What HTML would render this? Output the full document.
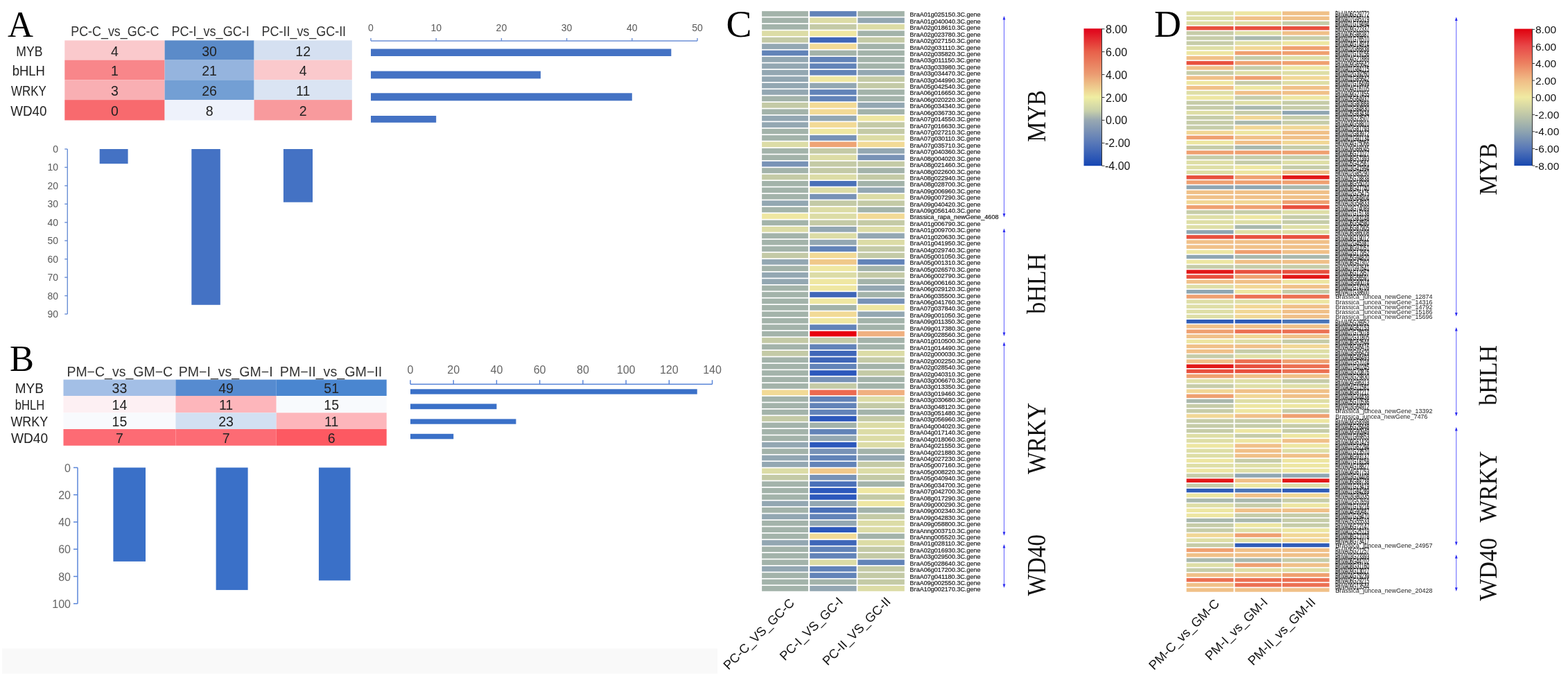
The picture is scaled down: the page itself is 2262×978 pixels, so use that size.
<!DOCTYPE html>
<html><head><meta charset="utf-8"><title>Figure</title>
<style>
html,body{margin:0;padding:0;background:#fff;width:2262px;height:978px;overflow:hidden}
svg{display:block}
</style></head>
<body>
<svg width="2262" height="978" viewBox="0 0 2262 978">
<rect x="0" y="0" width="2262" height="978" fill="#fff"/>
<rect x="3.00" y="935.50" width="1032.00" height="36.20" fill="#f9f9f9"/>
<text x="11.0" y="53.0" font-size="53" fill="#000" text-anchor="start" font-family="'Liberation Serif', 'Times New Roman', serif" textLength="37.0" lengthAdjust="spacingAndGlyphs">A</text>
<text x="14.0" y="534.7" font-size="53.5" fill="#000" text-anchor="start" font-family="'Liberation Serif', 'Times New Roman', serif" textLength="35.0" lengthAdjust="spacingAndGlyphs">B</text>
<text x="1047.5" y="53.3" font-size="55.5" fill="#000" text-anchor="start" font-family="'Liberation Serif', 'Times New Roman', serif" textLength="37.0" lengthAdjust="spacingAndGlyphs">C</text>
<text x="1665.0" y="53.3" font-size="54" fill="#000" text-anchor="start" font-family="'Liberation Serif', 'Times New Roman', serif" textLength="39.0" lengthAdjust="spacingAndGlyphs">D</text>
<rect x="93.30" y="58.30" width="144.30" height="28.30" fill="#fac9cc"/>
<rect x="237.60" y="58.30" width="129.00" height="28.30" fill="#5b8bc9"/>
<rect x="366.60" y="58.30" width="141.20" height="28.30" fill="#d5e0f1"/>
<rect x="93.30" y="86.60" width="144.30" height="28.70" fill="#f8868a"/>
<rect x="237.60" y="86.60" width="129.00" height="28.70" fill="#95b4de"/>
<rect x="366.60" y="86.60" width="141.20" height="28.70" fill="#fac9cc"/>
<rect x="93.30" y="115.30" width="144.30" height="28.80" fill="#f9afb3"/>
<rect x="237.60" y="115.30" width="129.00" height="28.80" fill="#739fd4"/>
<rect x="366.60" y="115.30" width="141.20" height="28.80" fill="#dae4f3"/>
<rect x="93.30" y="144.10" width="144.30" height="29.40" fill="#f86a6e"/>
<rect x="237.60" y="144.10" width="129.00" height="29.40" fill="#eef2fb"/>
<rect x="366.60" y="144.10" width="141.20" height="29.40" fill="#f89a9d"/>
<text x="165.4" y="80.7" font-size="19.5" fill="#222" text-anchor="middle" font-family="'Liberation Sans', Arial, sans-serif">4</text>
<text x="302.1" y="80.7" font-size="19.5" fill="#222" text-anchor="middle" font-family="'Liberation Sans', Arial, sans-serif">30</text>
<text x="437.2" y="80.7" font-size="19.5" fill="#222" text-anchor="middle" font-family="'Liberation Sans', Arial, sans-serif">12</text>
<text x="165.4" y="109.2" font-size="19.5" fill="#222" text-anchor="middle" font-family="'Liberation Sans', Arial, sans-serif">1</text>
<text x="302.1" y="109.2" font-size="19.5" fill="#222" text-anchor="middle" font-family="'Liberation Sans', Arial, sans-serif">21</text>
<text x="437.2" y="109.2" font-size="19.5" fill="#222" text-anchor="middle" font-family="'Liberation Sans', Arial, sans-serif">4</text>
<text x="165.4" y="138.0" font-size="19.5" fill="#222" text-anchor="middle" font-family="'Liberation Sans', Arial, sans-serif">3</text>
<text x="302.1" y="138.0" font-size="19.5" fill="#222" text-anchor="middle" font-family="'Liberation Sans', Arial, sans-serif">26</text>
<text x="437.2" y="138.0" font-size="19.5" fill="#222" text-anchor="middle" font-family="'Liberation Sans', Arial, sans-serif">11</text>
<text x="165.4" y="167.1" font-size="19.5" fill="#222" text-anchor="middle" font-family="'Liberation Sans', Arial, sans-serif">0</text>
<text x="302.1" y="167.1" font-size="19.5" fill="#222" text-anchor="middle" font-family="'Liberation Sans', Arial, sans-serif">8</text>
<text x="437.2" y="167.1" font-size="19.5" fill="#222" text-anchor="middle" font-family="'Liberation Sans', Arial, sans-serif">2</text>
<text x="23.3" y="80.7" font-size="19.5" fill="#222" text-anchor="start" font-family="'Liberation Sans', Arial, sans-serif" textLength="38.1" lengthAdjust="spacingAndGlyphs">MYB</text>
<text x="17.7" y="109.2" font-size="19.5" fill="#222" text-anchor="start" font-family="'Liberation Sans', Arial, sans-serif" textLength="47.3" lengthAdjust="spacingAndGlyphs">bHLH</text>
<text x="16.0" y="138.0" font-size="19.5" fill="#222" text-anchor="start" font-family="'Liberation Sans', Arial, sans-serif" textLength="50.8" lengthAdjust="spacingAndGlyphs">WRKY</text>
<text x="15.2" y="167.1" font-size="19.5" fill="#222" text-anchor="start" font-family="'Liberation Sans', Arial, sans-serif" textLength="52.3" lengthAdjust="spacingAndGlyphs">WD40</text>
<text x="102.2" y="51.5" font-size="19.5" fill="#333" text-anchor="start" font-family="'Liberation Sans', Arial, sans-serif" textLength="127.3" lengthAdjust="spacingAndGlyphs">PC-C_vs_GC-C</text>
<text x="247.5" y="51.5" font-size="19.5" fill="#333" text-anchor="start" font-family="'Liberation Sans', Arial, sans-serif" textLength="112.2" lengthAdjust="spacingAndGlyphs">PC-I_vs_GC-I</text>
<text x="377.6" y="51.5" font-size="19.5" fill="#333" text-anchor="start" font-family="'Liberation Sans', Arial, sans-serif" textLength="121.5" lengthAdjust="spacingAndGlyphs">PC-II_vs_GC-II</text>
<line x1="535" y1="59" x2="1006" y2="59" stroke="#6b8fd6" stroke-width="1.4"/>
<line x1="535.0" y1="59" x2="535.0" y2="55" stroke="#6b8fd6" stroke-width="1.4"/>
<text x="535.0" y="44.5" font-size="14" fill="#595959" text-anchor="middle" font-family="'Liberation Sans', Arial, sans-serif">0</text>
<line x1="629.2" y1="59" x2="629.2" y2="55" stroke="#6b8fd6" stroke-width="1.4"/>
<text x="629.2" y="44.5" font-size="14" fill="#595959" text-anchor="middle" font-family="'Liberation Sans', Arial, sans-serif">10</text>
<line x1="723.4" y1="59" x2="723.4" y2="55" stroke="#6b8fd6" stroke-width="1.4"/>
<text x="723.4" y="44.5" font-size="14" fill="#595959" text-anchor="middle" font-family="'Liberation Sans', Arial, sans-serif">20</text>
<line x1="817.6" y1="59" x2="817.6" y2="55" stroke="#6b8fd6" stroke-width="1.4"/>
<text x="817.6" y="44.5" font-size="14" fill="#595959" text-anchor="middle" font-family="'Liberation Sans', Arial, sans-serif">30</text>
<line x1="911.8" y1="59" x2="911.8" y2="55" stroke="#6b8fd6" stroke-width="1.4"/>
<text x="911.8" y="44.5" font-size="14" fill="#595959" text-anchor="middle" font-family="'Liberation Sans', Arial, sans-serif">40</text>
<line x1="1006.0" y1="59" x2="1006.0" y2="55" stroke="#6b8fd6" stroke-width="1.4"/>
<text x="1006.0" y="44.5" font-size="14" fill="#595959" text-anchor="middle" font-family="'Liberation Sans', Arial, sans-serif">50</text>
<rect x="535.00" y="70.50" width="433.32" height="10.50" fill="#4472c4"/>
<rect x="535.00" y="102.60" width="244.92" height="10.80" fill="#4472c4"/>
<rect x="535.00" y="134.30" width="376.80" height="11.00" fill="#4472c4"/>
<rect x="535.00" y="167.00" width="94.20" height="9.80" fill="#4472c4"/>
<line x1="97.3" y1="215" x2="97.3" y2="453" stroke="#6b8fd6" stroke-width="1.4"/>
<line x1="93.3" y1="215.0" x2="97.3" y2="215.0" stroke="#6b8fd6" stroke-width="1.4"/>
<text x="84.0" y="220.0" font-size="14" fill="#595959" text-anchor="end" font-family="'Liberation Sans', Arial, sans-serif">0</text>
<line x1="93.3" y1="241.4" x2="97.3" y2="241.4" stroke="#6b8fd6" stroke-width="1.4"/>
<text x="84.0" y="246.4" font-size="14" fill="#595959" text-anchor="end" font-family="'Liberation Sans', Arial, sans-serif">10</text>
<line x1="93.3" y1="267.9" x2="97.3" y2="267.9" stroke="#6b8fd6" stroke-width="1.4"/>
<text x="84.0" y="272.9" font-size="14" fill="#595959" text-anchor="end" font-family="'Liberation Sans', Arial, sans-serif">20</text>
<line x1="93.3" y1="294.3" x2="97.3" y2="294.3" stroke="#6b8fd6" stroke-width="1.4"/>
<text x="84.0" y="299.3" font-size="14" fill="#595959" text-anchor="end" font-family="'Liberation Sans', Arial, sans-serif">30</text>
<line x1="93.3" y1="320.8" x2="97.3" y2="320.8" stroke="#6b8fd6" stroke-width="1.4"/>
<text x="84.0" y="325.8" font-size="14" fill="#595959" text-anchor="end" font-family="'Liberation Sans', Arial, sans-serif">40</text>
<line x1="93.3" y1="347.2" x2="97.3" y2="347.2" stroke="#6b8fd6" stroke-width="1.4"/>
<text x="84.0" y="352.2" font-size="14" fill="#595959" text-anchor="end" font-family="'Liberation Sans', Arial, sans-serif">50</text>
<line x1="93.3" y1="373.7" x2="97.3" y2="373.7" stroke="#6b8fd6" stroke-width="1.4"/>
<text x="84.0" y="378.7" font-size="14" fill="#595959" text-anchor="end" font-family="'Liberation Sans', Arial, sans-serif">60</text>
<line x1="93.3" y1="400.1" x2="97.3" y2="400.1" stroke="#6b8fd6" stroke-width="1.4"/>
<text x="84.0" y="405.1" font-size="14" fill="#595959" text-anchor="end" font-family="'Liberation Sans', Arial, sans-serif">70</text>
<line x1="93.3" y1="426.6" x2="97.3" y2="426.6" stroke="#6b8fd6" stroke-width="1.4"/>
<text x="84.0" y="431.6" font-size="14" fill="#595959" text-anchor="end" font-family="'Liberation Sans', Arial, sans-serif">80</text>
<line x1="93.3" y1="453.0" x2="97.3" y2="453.0" stroke="#6b8fd6" stroke-width="1.4"/>
<text x="84.0" y="458.0" font-size="14" fill="#595959" text-anchor="end" font-family="'Liberation Sans', Arial, sans-serif">90</text>
<rect x="143.70" y="215.00" width="40.90" height="21.16" fill="#4472c4"/>
<rect x="276.30" y="215.00" width="41.50" height="224.78" fill="#4472c4"/>
<rect x="408.90" y="215.00" width="42.10" height="76.69" fill="#4472c4"/>
<rect x="91.50" y="547.60" width="161.90" height="23.40" fill="#a3bfe6"/>
<rect x="253.40" y="547.60" width="145.30" height="23.40" fill="#568bd0"/>
<rect x="398.70" y="547.60" width="159.00" height="23.40" fill="#4a86d0"/>
<rect x="91.50" y="571.00" width="161.90" height="24.40" fill="#fdf0f3"/>
<rect x="253.40" y="571.00" width="145.30" height="24.40" fill="#fdb6bb"/>
<rect x="398.70" y="571.00" width="159.00" height="24.40" fill="#f8fafd"/>
<rect x="91.50" y="595.40" width="161.90" height="23.60" fill="#f8fafd"/>
<rect x="253.40" y="595.40" width="145.30" height="23.60" fill="#d2e0f2"/>
<rect x="398.70" y="595.40" width="159.00" height="23.60" fill="#fdb6bb"/>
<rect x="91.50" y="619.00" width="161.90" height="23.80" fill="#fd6b74"/>
<rect x="253.40" y="619.00" width="145.30" height="23.80" fill="#fd6b74"/>
<rect x="398.70" y="619.00" width="159.00" height="23.80" fill="#fd5962"/>
<text x="172.4" y="567.3" font-size="19.5" fill="#222" text-anchor="middle" font-family="'Liberation Sans', Arial, sans-serif">33</text>
<text x="326.1" y="567.3" font-size="19.5" fill="#222" text-anchor="middle" font-family="'Liberation Sans', Arial, sans-serif">49</text>
<text x="478.2" y="567.3" font-size="19.5" fill="#222" text-anchor="middle" font-family="'Liberation Sans', Arial, sans-serif">51</text>
<text x="172.4" y="591.2" font-size="19.5" fill="#222" text-anchor="middle" font-family="'Liberation Sans', Arial, sans-serif">14</text>
<text x="326.1" y="591.2" font-size="19.5" fill="#222" text-anchor="middle" font-family="'Liberation Sans', Arial, sans-serif">11</text>
<text x="478.2" y="591.2" font-size="19.5" fill="#222" text-anchor="middle" font-family="'Liberation Sans', Arial, sans-serif">15</text>
<text x="172.4" y="615.2" font-size="19.5" fill="#222" text-anchor="middle" font-family="'Liberation Sans', Arial, sans-serif">15</text>
<text x="326.1" y="615.2" font-size="19.5" fill="#222" text-anchor="middle" font-family="'Liberation Sans', Arial, sans-serif">23</text>
<text x="478.2" y="615.2" font-size="19.5" fill="#222" text-anchor="middle" font-family="'Liberation Sans', Arial, sans-serif">11</text>
<text x="172.4" y="638.9" font-size="19.5" fill="#222" text-anchor="middle" font-family="'Liberation Sans', Arial, sans-serif">7</text>
<text x="326.1" y="638.9" font-size="19.5" fill="#222" text-anchor="middle" font-family="'Liberation Sans', Arial, sans-serif">7</text>
<text x="478.2" y="638.9" font-size="19.5" fill="#222" text-anchor="middle" font-family="'Liberation Sans', Arial, sans-serif">6</text>
<text x="21.8" y="567.3" font-size="19.5" fill="#222" text-anchor="start" font-family="'Liberation Sans', Arial, sans-serif" textLength="41.0" lengthAdjust="spacingAndGlyphs">MYB</text>
<text x="21.8" y="591.2" font-size="19.5" fill="#222" text-anchor="start" font-family="'Liberation Sans', Arial, sans-serif" textLength="42.3" lengthAdjust="spacingAndGlyphs">bHLH</text>
<text x="15.4" y="615.2" font-size="19.5" fill="#222" text-anchor="start" font-family="'Liberation Sans', Arial, sans-serif" textLength="53.8" lengthAdjust="spacingAndGlyphs">WRKY</text>
<text x="15.9" y="638.9" font-size="19.5" fill="#222" text-anchor="start" font-family="'Liberation Sans', Arial, sans-serif" textLength="53.3" lengthAdjust="spacingAndGlyphs">WD40</text>
<text x="96.4" y="543.3" font-size="19.5" fill="#333" text-anchor="start" font-family="'Liberation Sans', Arial, sans-serif" textLength="152.7" lengthAdjust="spacingAndGlyphs">PM−C_vs_GM−C</text>
<text x="257.7" y="543.3" font-size="19.5" fill="#333" text-anchor="start" font-family="'Liberation Sans', Arial, sans-serif" textLength="135.9" lengthAdjust="spacingAndGlyphs">PM−I_vs_GM−I</text>
<text x="403.8" y="543.3" font-size="19.5" fill="#333" text-anchor="start" font-family="'Liberation Sans', Arial, sans-serif" textLength="147.5" lengthAdjust="spacingAndGlyphs">PM−II_vs_GM−II</text>
<line x1="592" y1="554.2" x2="1027.5" y2="554.2" stroke="#5b86d8" stroke-width="1.5"/>
<line x1="592.0" y1="554.2" x2="592.0" y2="548.2" stroke="#5b86d8" stroke-width="1.5"/>
<text x="592.0" y="539.3" font-size="16" fill="#666" text-anchor="middle" font-family="'Liberation Sans', Arial, sans-serif">0</text>
<line x1="654.2" y1="554.2" x2="654.2" y2="548.2" stroke="#5b86d8" stroke-width="1.5"/>
<text x="654.2" y="539.3" font-size="16" fill="#666" text-anchor="middle" font-family="'Liberation Sans', Arial, sans-serif">20</text>
<line x1="716.4" y1="554.2" x2="716.4" y2="548.2" stroke="#5b86d8" stroke-width="1.5"/>
<text x="716.4" y="539.3" font-size="16" fill="#666" text-anchor="middle" font-family="'Liberation Sans', Arial, sans-serif">40</text>
<line x1="778.6" y1="554.2" x2="778.6" y2="548.2" stroke="#5b86d8" stroke-width="1.5"/>
<text x="778.6" y="539.3" font-size="16" fill="#666" text-anchor="middle" font-family="'Liberation Sans', Arial, sans-serif">60</text>
<line x1="840.9" y1="554.2" x2="840.9" y2="548.2" stroke="#5b86d8" stroke-width="1.5"/>
<text x="840.9" y="539.3" font-size="16" fill="#666" text-anchor="middle" font-family="'Liberation Sans', Arial, sans-serif">80</text>
<line x1="903.1" y1="554.2" x2="903.1" y2="548.2" stroke="#5b86d8" stroke-width="1.5"/>
<text x="903.1" y="539.3" font-size="16" fill="#666" text-anchor="middle" font-family="'Liberation Sans', Arial, sans-serif">100</text>
<line x1="965.3" y1="554.2" x2="965.3" y2="548.2" stroke="#5b86d8" stroke-width="1.5"/>
<text x="965.3" y="539.3" font-size="16" fill="#666" text-anchor="middle" font-family="'Liberation Sans', Arial, sans-serif">120</text>
<line x1="1027.5" y1="554.2" x2="1027.5" y2="548.2" stroke="#5b86d8" stroke-width="1.5"/>
<text x="1027.5" y="539.3" font-size="16" fill="#666" text-anchor="middle" font-family="'Liberation Sans', Arial, sans-serif">140</text>
<rect x="592.00" y="561.30" width="413.73" height="7.30" fill="#3a70c8"/>
<rect x="592.00" y="582.50" width="124.43" height="7.70" fill="#3a70c8"/>
<rect x="592.00" y="604.40" width="152.43" height="7.30" fill="#3a70c8"/>
<rect x="592.00" y="625.80" width="62.21" height="7.50" fill="#3a70c8"/>
<line x1="112" y1="674.5" x2="112" y2="870.7" stroke="#5b86d8" stroke-width="1.5"/>
<line x1="106" y1="674.5" x2="112" y2="674.5" stroke="#5b86d8" stroke-width="1.5"/>
<text x="102.0" y="680.5" font-size="16" fill="#666" text-anchor="end" font-family="'Liberation Sans', Arial, sans-serif">0</text>
<line x1="106" y1="713.7" x2="112" y2="713.7" stroke="#5b86d8" stroke-width="1.5"/>
<text x="102.0" y="719.7" font-size="16" fill="#666" text-anchor="end" font-family="'Liberation Sans', Arial, sans-serif">20</text>
<line x1="106" y1="753.0" x2="112" y2="753.0" stroke="#5b86d8" stroke-width="1.5"/>
<text x="102.0" y="759.0" font-size="16" fill="#666" text-anchor="end" font-family="'Liberation Sans', Arial, sans-serif">40</text>
<line x1="106" y1="792.2" x2="112" y2="792.2" stroke="#5b86d8" stroke-width="1.5"/>
<text x="102.0" y="798.2" font-size="16" fill="#666" text-anchor="end" font-family="'Liberation Sans', Arial, sans-serif">60</text>
<line x1="106" y1="831.5" x2="112" y2="831.5" stroke="#5b86d8" stroke-width="1.5"/>
<text x="102.0" y="837.5" font-size="16" fill="#666" text-anchor="end" font-family="'Liberation Sans', Arial, sans-serif">80</text>
<line x1="106" y1="870.7" x2="112" y2="870.7" stroke="#5b86d8" stroke-width="1.5"/>
<text x="102.0" y="876.7" font-size="16" fill="#666" text-anchor="end" font-family="'Liberation Sans', Arial, sans-serif">100</text>
<rect x="163.40" y="674.50" width="46.60" height="135.38" fill="#3a70c8"/>
<rect x="311.60" y="674.50" width="46.00" height="176.58" fill="#3a70c8"/>
<rect x="459.90" y="674.50" width="45.60" height="162.85" fill="#3a70c8"/>
<g>
<rect x="1099.10" y="16.10" width="66.80" height="7.70" fill="#a3b3aa"/>
<rect x="1168.20" y="16.10" width="67.40" height="7.70" fill="#6283b8"/>
<rect x="1237.40" y="16.10" width="67.40" height="7.70" fill="#a3b3aa"/>
<rect x="1099.10" y="25.52" width="66.80" height="7.70" fill="#a3b3aa"/>
<rect x="1168.20" y="25.52" width="67.40" height="7.70" fill="#dcdca6"/>
<rect x="1237.40" y="25.52" width="67.40" height="7.70" fill="#93a7b2"/>
<rect x="1099.10" y="34.94" width="66.80" height="7.70" fill="#a3b3aa"/>
<rect x="1168.20" y="34.94" width="67.40" height="7.70" fill="#c4caa6"/>
<rect x="1237.40" y="34.94" width="67.40" height="7.70" fill="#dcdca6"/>
<rect x="1099.10" y="44.36" width="66.80" height="7.70" fill="#dcdca6"/>
<rect x="1168.20" y="44.36" width="67.40" height="7.70" fill="#efe7a2"/>
<rect x="1237.40" y="44.36" width="67.40" height="7.70" fill="#a3b3aa"/>
<rect x="1099.10" y="53.78" width="66.80" height="7.70" fill="#c4caa6"/>
<rect x="1168.20" y="53.78" width="67.40" height="7.70" fill="#3f66b8"/>
<rect x="1237.40" y="53.78" width="67.40" height="7.70" fill="#c4caa6"/>
<rect x="1099.10" y="63.20" width="66.80" height="7.70" fill="#93a7b2"/>
<rect x="1168.20" y="63.20" width="67.40" height="7.70" fill="#f2da96"/>
<rect x="1237.40" y="63.20" width="67.40" height="7.70" fill="#a3b3aa"/>
<rect x="1099.10" y="72.62" width="66.80" height="7.70" fill="#6283b8"/>
<rect x="1168.20" y="72.62" width="67.40" height="7.70" fill="#a3b3aa"/>
<rect x="1237.40" y="72.62" width="67.40" height="7.70" fill="#a3b3aa"/>
<rect x="1099.10" y="82.04" width="66.80" height="7.70" fill="#93a7b2"/>
<rect x="1168.20" y="82.04" width="67.40" height="7.70" fill="#6283b8"/>
<rect x="1237.40" y="82.04" width="67.40" height="7.70" fill="#a3b3aa"/>
<rect x="1099.10" y="91.46" width="66.80" height="7.70" fill="#93a7b2"/>
<rect x="1168.20" y="91.46" width="67.40" height="7.70" fill="#6283b8"/>
<rect x="1237.40" y="91.46" width="67.40" height="7.70" fill="#a3b3aa"/>
<rect x="1099.10" y="100.88" width="66.80" height="7.70" fill="#93a7b2"/>
<rect x="1168.20" y="100.88" width="67.40" height="7.70" fill="#6283b8"/>
<rect x="1237.40" y="100.88" width="67.40" height="7.70" fill="#93a7b2"/>
<rect x="1099.10" y="110.30" width="66.80" height="7.70" fill="#93a7b2"/>
<rect x="1168.20" y="110.30" width="67.40" height="7.70" fill="#efe7a2"/>
<rect x="1237.40" y="110.30" width="67.40" height="7.70" fill="#c4caa6"/>
<rect x="1099.10" y="119.72" width="66.80" height="7.70" fill="#93a7b2"/>
<rect x="1168.20" y="119.72" width="67.40" height="7.70" fill="#93a7b2"/>
<rect x="1237.40" y="119.72" width="67.40" height="7.70" fill="#c4caa6"/>
<rect x="1099.10" y="129.14" width="66.80" height="7.70" fill="#93a7b2"/>
<rect x="1168.20" y="129.14" width="67.40" height="7.70" fill="#6283b8"/>
<rect x="1237.40" y="129.14" width="67.40" height="7.70" fill="#a3b3aa"/>
<rect x="1099.10" y="138.56" width="66.80" height="7.70" fill="#a3b3aa"/>
<rect x="1168.20" y="138.56" width="67.40" height="7.70" fill="#6283b8"/>
<rect x="1237.40" y="138.56" width="67.40" height="7.70" fill="#a3b3aa"/>
<rect x="1099.10" y="147.98" width="66.80" height="7.70" fill="#c4caa6"/>
<rect x="1168.20" y="147.98" width="67.40" height="7.70" fill="#f2da96"/>
<rect x="1237.40" y="147.98" width="67.40" height="7.70" fill="#93a7b2"/>
<rect x="1099.10" y="157.40" width="66.80" height="7.70" fill="#a3b3aa"/>
<rect x="1168.20" y="157.40" width="67.40" height="7.70" fill="#f2da96"/>
<rect x="1237.40" y="157.40" width="67.40" height="7.70" fill="#a3b3aa"/>
<rect x="1099.10" y="166.82" width="66.80" height="7.70" fill="#93a7b2"/>
<rect x="1168.20" y="166.82" width="67.40" height="7.70" fill="#93a7b2"/>
<rect x="1237.40" y="166.82" width="67.40" height="7.70" fill="#efe7a2"/>
<rect x="1099.10" y="176.24" width="66.80" height="7.70" fill="#93a7b2"/>
<rect x="1168.20" y="176.24" width="67.40" height="7.70" fill="#f2da96"/>
<rect x="1237.40" y="176.24" width="67.40" height="7.70" fill="#c4caa6"/>
<rect x="1099.10" y="185.66" width="66.80" height="7.70" fill="#a3b3aa"/>
<rect x="1168.20" y="185.66" width="67.40" height="7.70" fill="#efe7a2"/>
<rect x="1237.40" y="185.66" width="67.40" height="7.70" fill="#c4caa6"/>
<rect x="1099.10" y="195.08" width="66.80" height="7.70" fill="#a3b3aa"/>
<rect x="1168.20" y="195.08" width="67.40" height="7.70" fill="#7892b6"/>
<rect x="1237.40" y="195.08" width="67.40" height="7.70" fill="#dcdca6"/>
<rect x="1099.10" y="204.50" width="66.80" height="7.70" fill="#dcdca6"/>
<rect x="1168.20" y="204.50" width="67.40" height="7.70" fill="#efa474"/>
<rect x="1237.40" y="204.50" width="67.40" height="7.70" fill="#f2da96"/>
<rect x="1099.10" y="213.92" width="66.80" height="7.70" fill="#a3b3aa"/>
<rect x="1168.20" y="213.92" width="67.40" height="7.70" fill="#c4caa6"/>
<rect x="1237.40" y="213.92" width="67.40" height="7.70" fill="#93a7b2"/>
<rect x="1099.10" y="223.34" width="66.80" height="7.70" fill="#a3b3aa"/>
<rect x="1168.20" y="223.34" width="67.40" height="7.70" fill="#dcdca6"/>
<rect x="1237.40" y="223.34" width="67.40" height="7.70" fill="#7892b6"/>
<rect x="1099.10" y="232.76" width="66.80" height="7.70" fill="#7892b6"/>
<rect x="1168.20" y="232.76" width="67.40" height="7.70" fill="#c4caa6"/>
<rect x="1237.40" y="232.76" width="67.40" height="7.70" fill="#c4caa6"/>
<rect x="1099.10" y="242.18" width="66.80" height="7.70" fill="#a3b3aa"/>
<rect x="1168.20" y="242.18" width="67.40" height="7.70" fill="#c4caa6"/>
<rect x="1237.40" y="242.18" width="67.40" height="7.70" fill="#a3b3aa"/>
<rect x="1099.10" y="251.60" width="66.80" height="7.70" fill="#c4caa6"/>
<rect x="1168.20" y="251.60" width="67.40" height="7.70" fill="#dcdca6"/>
<rect x="1237.40" y="251.60" width="67.40" height="7.70" fill="#c4caa6"/>
<rect x="1099.10" y="261.02" width="66.80" height="7.70" fill="#a3b3aa"/>
<rect x="1168.20" y="261.02" width="67.40" height="7.70" fill="#4a70b8"/>
<rect x="1237.40" y="261.02" width="67.40" height="7.70" fill="#a3b3aa"/>
<rect x="1099.10" y="270.44" width="66.80" height="7.70" fill="#a3b3aa"/>
<rect x="1168.20" y="270.44" width="67.40" height="7.70" fill="#dcdca6"/>
<rect x="1237.40" y="270.44" width="67.40" height="7.70" fill="#93a7b2"/>
<rect x="1099.10" y="279.86" width="66.80" height="7.70" fill="#a3b3aa"/>
<rect x="1168.20" y="279.86" width="67.40" height="7.70" fill="#7892b6"/>
<rect x="1237.40" y="279.86" width="67.40" height="7.70" fill="#dcdca6"/>
<rect x="1099.10" y="289.28" width="66.80" height="7.70" fill="#93a7b2"/>
<rect x="1168.20" y="289.28" width="67.40" height="7.70" fill="#c4caa6"/>
<rect x="1237.40" y="289.28" width="67.40" height="7.70" fill="#c4caa6"/>
<rect x="1099.10" y="298.70" width="66.80" height="7.70" fill="#a3b3aa"/>
<rect x="1168.20" y="298.70" width="67.40" height="7.70" fill="#dcdca6"/>
<rect x="1237.40" y="298.70" width="67.40" height="7.70" fill="#a3b3aa"/>
<rect x="1099.10" y="308.12" width="66.80" height="7.70" fill="#efe7a2"/>
<rect x="1168.20" y="308.12" width="67.40" height="7.70" fill="#dcdca6"/>
<rect x="1237.40" y="308.12" width="67.40" height="7.70" fill="#f2da96"/>
<rect x="1099.10" y="317.54" width="66.80" height="7.70" fill="#a3b3aa"/>
<rect x="1168.20" y="317.54" width="67.40" height="7.70" fill="#c4caa6"/>
<rect x="1237.40" y="317.54" width="67.40" height="7.70" fill="#c4caa6"/>
<rect x="1099.10" y="326.96" width="66.80" height="7.70" fill="#dcdca6"/>
<rect x="1168.20" y="326.96" width="67.40" height="7.70" fill="#93a7b2"/>
<rect x="1237.40" y="326.96" width="67.40" height="7.70" fill="#dcdca6"/>
<rect x="1099.10" y="336.38" width="66.80" height="7.70" fill="#a3b3aa"/>
<rect x="1168.20" y="336.38" width="67.40" height="7.70" fill="#dcdca6"/>
<rect x="1237.40" y="336.38" width="67.40" height="7.70" fill="#93a7b2"/>
<rect x="1099.10" y="345.80" width="66.80" height="7.70" fill="#a3b3aa"/>
<rect x="1168.20" y="345.80" width="67.40" height="7.70" fill="#93a7b2"/>
<rect x="1237.40" y="345.80" width="67.40" height="7.70" fill="#dcdca6"/>
<rect x="1099.10" y="355.22" width="66.80" height="7.70" fill="#a3b3aa"/>
<rect x="1168.20" y="355.22" width="67.40" height="7.70" fill="#6283b8"/>
<rect x="1237.40" y="355.22" width="67.40" height="7.70" fill="#c4caa6"/>
<rect x="1099.10" y="364.64" width="66.80" height="7.70" fill="#c4caa6"/>
<rect x="1168.20" y="364.64" width="67.40" height="7.70" fill="#f2da96"/>
<rect x="1237.40" y="364.64" width="67.40" height="7.70" fill="#c4caa6"/>
<rect x="1099.10" y="374.06" width="66.80" height="7.70" fill="#93a7b2"/>
<rect x="1168.20" y="374.06" width="67.40" height="7.70" fill="#f0c88a"/>
<rect x="1237.40" y="374.06" width="67.40" height="7.70" fill="#6283b8"/>
<rect x="1099.10" y="383.48" width="66.80" height="7.70" fill="#a3b3aa"/>
<rect x="1168.20" y="383.48" width="67.40" height="7.70" fill="#efe7a2"/>
<rect x="1237.40" y="383.48" width="67.40" height="7.70" fill="#a3b3aa"/>
<rect x="1099.10" y="392.90" width="66.80" height="7.70" fill="#93a7b2"/>
<rect x="1168.20" y="392.90" width="67.40" height="7.70" fill="#dcdca6"/>
<rect x="1237.40" y="392.90" width="67.40" height="7.70" fill="#c4caa6"/>
<rect x="1099.10" y="402.32" width="66.80" height="7.70" fill="#93a7b2"/>
<rect x="1168.20" y="402.32" width="67.40" height="7.70" fill="#efe7a2"/>
<rect x="1237.40" y="402.32" width="67.40" height="7.70" fill="#a3b3aa"/>
<rect x="1099.10" y="411.74" width="66.80" height="7.70" fill="#a3b3aa"/>
<rect x="1168.20" y="411.74" width="67.40" height="7.70" fill="#efe7a2"/>
<rect x="1237.40" y="411.74" width="67.40" height="7.70" fill="#93a7b2"/>
<rect x="1099.10" y="421.16" width="66.80" height="7.70" fill="#a3b3aa"/>
<rect x="1168.20" y="421.16" width="67.40" height="7.70" fill="#3f66b8"/>
<rect x="1237.40" y="421.16" width="67.40" height="7.70" fill="#a3b3aa"/>
<rect x="1099.10" y="430.58" width="66.80" height="7.70" fill="#a3b3aa"/>
<rect x="1168.20" y="430.58" width="67.40" height="7.70" fill="#efe7a2"/>
<rect x="1237.40" y="430.58" width="67.40" height="7.70" fill="#7892b6"/>
<rect x="1099.10" y="440.00" width="66.80" height="7.70" fill="#a3b3aa"/>
<rect x="1168.20" y="440.00" width="67.40" height="7.70" fill="#a3b3aa"/>
<rect x="1237.40" y="440.00" width="67.40" height="7.70" fill="#efe7a2"/>
<rect x="1099.10" y="449.42" width="66.80" height="7.70" fill="#a3b3aa"/>
<rect x="1168.20" y="449.42" width="67.40" height="7.70" fill="#f2da96"/>
<rect x="1237.40" y="449.42" width="67.40" height="7.70" fill="#93a7b2"/>
<rect x="1099.10" y="458.84" width="66.80" height="7.70" fill="#a3b3aa"/>
<rect x="1168.20" y="458.84" width="67.40" height="7.70" fill="#efe7a2"/>
<rect x="1237.40" y="458.84" width="67.40" height="7.70" fill="#a3b3aa"/>
<rect x="1099.10" y="468.26" width="66.80" height="7.70" fill="#a3b3aa"/>
<rect x="1168.20" y="468.26" width="67.40" height="7.70" fill="#6283b8"/>
<rect x="1237.40" y="468.26" width="67.40" height="7.70" fill="#a3b3aa"/>
<rect x="1099.10" y="477.68" width="66.80" height="7.70" fill="#a3b3aa"/>
<rect x="1168.20" y="477.68" width="67.40" height="7.70" fill="#e8000f"/>
<rect x="1237.40" y="477.68" width="67.40" height="7.70" fill="#f0b080"/>
<rect x="1099.10" y="487.10" width="66.80" height="7.70" fill="#c4caa6"/>
<rect x="1168.20" y="487.10" width="67.40" height="7.70" fill="#c4caa6"/>
<rect x="1237.40" y="487.10" width="67.40" height="7.70" fill="#a3b3aa"/>
<rect x="1099.10" y="496.52" width="66.80" height="7.70" fill="#a3b3aa"/>
<rect x="1168.20" y="496.52" width="67.40" height="7.70" fill="#6283b8"/>
<rect x="1237.40" y="496.52" width="67.40" height="7.70" fill="#a3b3aa"/>
<rect x="1099.10" y="505.94" width="66.80" height="7.70" fill="#c4caa6"/>
<rect x="1168.20" y="505.94" width="67.40" height="7.70" fill="#3f66b8"/>
<rect x="1237.40" y="505.94" width="67.40" height="7.70" fill="#dcdca6"/>
<rect x="1099.10" y="515.36" width="66.80" height="7.70" fill="#a3b3aa"/>
<rect x="1168.20" y="515.36" width="67.40" height="7.70" fill="#3f66b8"/>
<rect x="1237.40" y="515.36" width="67.40" height="7.70" fill="#c4caa6"/>
<rect x="1099.10" y="524.78" width="66.80" height="7.70" fill="#a3b3aa"/>
<rect x="1168.20" y="524.78" width="67.40" height="7.70" fill="#6283b8"/>
<rect x="1237.40" y="524.78" width="67.40" height="7.70" fill="#a3b3aa"/>
<rect x="1099.10" y="534.20" width="66.80" height="7.70" fill="#a3b3aa"/>
<rect x="1168.20" y="534.20" width="67.40" height="7.70" fill="#2c58bc"/>
<rect x="1237.40" y="534.20" width="67.40" height="7.70" fill="#c4caa6"/>
<rect x="1099.10" y="543.62" width="66.80" height="7.70" fill="#a3b3aa"/>
<rect x="1168.20" y="543.62" width="67.40" height="7.70" fill="#7892b6"/>
<rect x="1237.40" y="543.62" width="67.40" height="7.70" fill="#a3b3aa"/>
<rect x="1099.10" y="553.04" width="66.80" height="7.70" fill="#a3b3aa"/>
<rect x="1168.20" y="553.04" width="67.40" height="7.70" fill="#c4caa6"/>
<rect x="1237.40" y="553.04" width="67.40" height="7.70" fill="#a3b3aa"/>
<rect x="1099.10" y="562.46" width="66.80" height="7.70" fill="#f2da96"/>
<rect x="1168.20" y="562.46" width="67.40" height="7.70" fill="#ec6a50"/>
<rect x="1237.40" y="562.46" width="67.40" height="7.70" fill="#f0b080"/>
<rect x="1099.10" y="571.88" width="66.80" height="7.70" fill="#a3b3aa"/>
<rect x="1168.20" y="571.88" width="67.40" height="7.70" fill="#6283b8"/>
<rect x="1237.40" y="571.88" width="67.40" height="7.70" fill="#dcdca6"/>
<rect x="1099.10" y="581.30" width="66.80" height="7.70" fill="#a3b3aa"/>
<rect x="1168.20" y="581.30" width="67.40" height="7.70" fill="#6283b8"/>
<rect x="1237.40" y="581.30" width="67.40" height="7.70" fill="#c4caa6"/>
<rect x="1099.10" y="590.72" width="66.80" height="7.70" fill="#a3b3aa"/>
<rect x="1168.20" y="590.72" width="67.40" height="7.70" fill="#6283b8"/>
<rect x="1237.40" y="590.72" width="67.40" height="7.70" fill="#a3b3aa"/>
<rect x="1099.10" y="600.14" width="66.80" height="7.70" fill="#c4caa6"/>
<rect x="1168.20" y="600.14" width="67.40" height="7.70" fill="#2c58bc"/>
<rect x="1237.40" y="600.14" width="67.40" height="7.70" fill="#c4caa6"/>
<rect x="1099.10" y="609.56" width="66.80" height="7.70" fill="#a3b3aa"/>
<rect x="1168.20" y="609.56" width="67.40" height="7.70" fill="#a3b3aa"/>
<rect x="1237.40" y="609.56" width="67.40" height="7.70" fill="#dcdca6"/>
<rect x="1099.10" y="618.98" width="66.80" height="7.70" fill="#a3b3aa"/>
<rect x="1168.20" y="618.98" width="67.40" height="7.70" fill="#6283b8"/>
<rect x="1237.40" y="618.98" width="67.40" height="7.70" fill="#dcdca6"/>
<rect x="1099.10" y="628.40" width="66.80" height="7.70" fill="#a3b3aa"/>
<rect x="1168.20" y="628.40" width="67.40" height="7.70" fill="#93a7b2"/>
<rect x="1237.40" y="628.40" width="67.40" height="7.70" fill="#dcdca6"/>
<rect x="1099.10" y="637.82" width="66.80" height="7.70" fill="#93a7b2"/>
<rect x="1168.20" y="637.82" width="67.40" height="7.70" fill="#2c58bc"/>
<rect x="1237.40" y="637.82" width="67.40" height="7.70" fill="#dcdca6"/>
<rect x="1099.10" y="647.24" width="66.80" height="7.70" fill="#a3b3aa"/>
<rect x="1168.20" y="647.24" width="67.40" height="7.70" fill="#7892b6"/>
<rect x="1237.40" y="647.24" width="67.40" height="7.70" fill="#a3b3aa"/>
<rect x="1099.10" y="656.66" width="66.80" height="7.70" fill="#93a7b2"/>
<rect x="1168.20" y="656.66" width="67.40" height="7.70" fill="#6283b8"/>
<rect x="1237.40" y="656.66" width="67.40" height="7.70" fill="#93a7b2"/>
<rect x="1099.10" y="666.08" width="66.80" height="7.70" fill="#93a7b2"/>
<rect x="1168.20" y="666.08" width="67.40" height="7.70" fill="#6283b8"/>
<rect x="1237.40" y="666.08" width="67.40" height="7.70" fill="#c4caa6"/>
<rect x="1099.10" y="675.50" width="66.80" height="7.70" fill="#dcdca6"/>
<rect x="1168.20" y="675.50" width="67.40" height="7.70" fill="#f0c88a"/>
<rect x="1237.40" y="675.50" width="67.40" height="7.70" fill="#dcdca6"/>
<rect x="1099.10" y="684.92" width="66.80" height="7.70" fill="#c4caa6"/>
<rect x="1168.20" y="684.92" width="67.40" height="7.70" fill="#7892b6"/>
<rect x="1237.40" y="684.92" width="67.40" height="7.70" fill="#c4caa6"/>
<rect x="1099.10" y="694.34" width="66.80" height="7.70" fill="#a3b3aa"/>
<rect x="1168.20" y="694.34" width="67.40" height="7.70" fill="#4a70b8"/>
<rect x="1237.40" y="694.34" width="67.40" height="7.70" fill="#a3b3aa"/>
<rect x="1099.10" y="703.76" width="66.80" height="7.70" fill="#a3b3aa"/>
<rect x="1168.20" y="703.76" width="67.40" height="7.70" fill="#2c58bc"/>
<rect x="1237.40" y="703.76" width="67.40" height="7.70" fill="#efe7a2"/>
<rect x="1099.10" y="713.18" width="66.80" height="7.70" fill="#a3b3aa"/>
<rect x="1168.20" y="713.18" width="67.40" height="7.70" fill="#2c58bc"/>
<rect x="1237.40" y="713.18" width="67.40" height="7.70" fill="#c4caa6"/>
<rect x="1099.10" y="722.60" width="66.80" height="7.70" fill="#93a7b2"/>
<rect x="1168.20" y="722.60" width="67.40" height="7.70" fill="#93a7b2"/>
<rect x="1237.40" y="722.60" width="67.40" height="7.70" fill="#efe7a2"/>
<rect x="1099.10" y="732.02" width="66.80" height="7.70" fill="#a3b3aa"/>
<rect x="1168.20" y="732.02" width="67.40" height="7.70" fill="#4a70b8"/>
<rect x="1237.40" y="732.02" width="67.40" height="7.70" fill="#a3b3aa"/>
<rect x="1099.10" y="741.44" width="66.80" height="7.70" fill="#93a7b2"/>
<rect x="1168.20" y="741.44" width="67.40" height="7.70" fill="#6283b8"/>
<rect x="1237.40" y="741.44" width="67.40" height="7.70" fill="#c4caa6"/>
<rect x="1099.10" y="750.86" width="66.80" height="7.70" fill="#a3b3aa"/>
<rect x="1168.20" y="750.86" width="67.40" height="7.70" fill="#93a7b2"/>
<rect x="1237.40" y="750.86" width="67.40" height="7.70" fill="#dcdca6"/>
<rect x="1099.10" y="760.28" width="66.80" height="7.70" fill="#a3b3aa"/>
<rect x="1168.20" y="760.28" width="67.40" height="7.70" fill="#2c58bc"/>
<rect x="1237.40" y="760.28" width="67.40" height="7.70" fill="#dcdca6"/>
<rect x="1099.10" y="769.70" width="66.80" height="7.70" fill="#a3b3aa"/>
<rect x="1168.20" y="769.70" width="67.40" height="7.70" fill="#f2da96"/>
<rect x="1237.40" y="769.70" width="67.40" height="7.70" fill="#a3b3aa"/>
<rect x="1099.10" y="779.12" width="66.80" height="7.70" fill="#93a7b2"/>
<rect x="1168.20" y="779.12" width="67.40" height="7.70" fill="#3f66b8"/>
<rect x="1237.40" y="779.12" width="67.40" height="7.70" fill="#dcdca6"/>
<rect x="1099.10" y="788.54" width="66.80" height="7.70" fill="#a3b3aa"/>
<rect x="1168.20" y="788.54" width="67.40" height="7.70" fill="#6283b8"/>
<rect x="1237.40" y="788.54" width="67.40" height="7.70" fill="#c4caa6"/>
<rect x="1099.10" y="797.96" width="66.80" height="7.70" fill="#a3b3aa"/>
<rect x="1168.20" y="797.96" width="67.40" height="7.70" fill="#6283b8"/>
<rect x="1237.40" y="797.96" width="67.40" height="7.70" fill="#c4caa6"/>
<rect x="1099.10" y="807.38" width="66.80" height="7.70" fill="#a3b3aa"/>
<rect x="1168.20" y="807.38" width="67.40" height="7.70" fill="#dcdca6"/>
<rect x="1237.40" y="807.38" width="67.40" height="7.70" fill="#6283b8"/>
<rect x="1099.10" y="816.80" width="66.80" height="7.70" fill="#93a7b2"/>
<rect x="1168.20" y="816.80" width="67.40" height="7.70" fill="#6283b8"/>
<rect x="1237.40" y="816.80" width="67.40" height="7.70" fill="#c4caa6"/>
<rect x="1099.10" y="826.22" width="66.80" height="7.70" fill="#a3b3aa"/>
<rect x="1168.20" y="826.22" width="67.40" height="7.70" fill="#6283b8"/>
<rect x="1237.40" y="826.22" width="67.40" height="7.70" fill="#c4caa6"/>
<rect x="1099.10" y="835.64" width="66.80" height="7.70" fill="#a3b3aa"/>
<rect x="1168.20" y="835.64" width="67.40" height="7.70" fill="#a3b3aa"/>
<rect x="1237.40" y="835.64" width="67.40" height="7.70" fill="#c4caa6"/>
<rect x="1099.10" y="845.06" width="66.80" height="7.70" fill="#a3b3aa"/>
<rect x="1168.20" y="845.06" width="67.40" height="7.70" fill="#93a7b2"/>
<rect x="1237.40" y="845.06" width="67.40" height="7.70" fill="#dcdca6"/>
</g>
<text x="1312.6" y="24.4" font-size="8.6" fill="#111" text-anchor="start" font-family="'Liberation Sans', Arial, sans-serif" textLength="102.0" lengthAdjust="spacingAndGlyphs" stroke="#222" stroke-width="0.2">BraA01g025150.3C.gene</text>
<text x="1312.6" y="33.8" font-size="8.6" fill="#111" text-anchor="start" font-family="'Liberation Sans', Arial, sans-serif" textLength="102.0" lengthAdjust="spacingAndGlyphs" stroke="#222" stroke-width="0.2">BraA01g040040.3C.gene</text>
<text x="1312.6" y="43.2" font-size="8.6" fill="#111" text-anchor="start" font-family="'Liberation Sans', Arial, sans-serif" textLength="102.0" lengthAdjust="spacingAndGlyphs" stroke="#222" stroke-width="0.2">BraA02g018610.3C.gene</text>
<text x="1312.6" y="52.7" font-size="8.6" fill="#111" text-anchor="start" font-family="'Liberation Sans', Arial, sans-serif" textLength="102.0" lengthAdjust="spacingAndGlyphs" stroke="#222" stroke-width="0.2">BraA02g023780.3C.gene</text>
<text x="1312.6" y="62.1" font-size="8.6" fill="#111" text-anchor="start" font-family="'Liberation Sans', Arial, sans-serif" textLength="102.0" lengthAdjust="spacingAndGlyphs" stroke="#222" stroke-width="0.2">BraA02g027150.3C.gene</text>
<text x="1312.6" y="71.5" font-size="8.6" fill="#111" text-anchor="start" font-family="'Liberation Sans', Arial, sans-serif" textLength="102.0" lengthAdjust="spacingAndGlyphs" stroke="#222" stroke-width="0.2">BraA02g031110.3C.gene</text>
<text x="1312.6" y="80.9" font-size="8.6" fill="#111" text-anchor="start" font-family="'Liberation Sans', Arial, sans-serif" textLength="102.0" lengthAdjust="spacingAndGlyphs" stroke="#222" stroke-width="0.2">BraA02g035820.3C.gene</text>
<text x="1312.6" y="90.3" font-size="8.6" fill="#111" text-anchor="start" font-family="'Liberation Sans', Arial, sans-serif" textLength="102.0" lengthAdjust="spacingAndGlyphs" stroke="#222" stroke-width="0.2">BraA03g011150.3C.gene</text>
<text x="1312.6" y="99.8" font-size="8.6" fill="#111" text-anchor="start" font-family="'Liberation Sans', Arial, sans-serif" textLength="102.0" lengthAdjust="spacingAndGlyphs" stroke="#222" stroke-width="0.2">BraA03g033980.3C.gene</text>
<text x="1312.6" y="109.2" font-size="8.6" fill="#111" text-anchor="start" font-family="'Liberation Sans', Arial, sans-serif" textLength="102.0" lengthAdjust="spacingAndGlyphs" stroke="#222" stroke-width="0.2">BraA03g034470.3C.gene</text>
<text x="1312.6" y="118.6" font-size="8.6" fill="#111" text-anchor="start" font-family="'Liberation Sans', Arial, sans-serif" textLength="102.0" lengthAdjust="spacingAndGlyphs" stroke="#222" stroke-width="0.2">BraA03g044990.3C.gene</text>
<text x="1312.6" y="128.0" font-size="8.6" fill="#111" text-anchor="start" font-family="'Liberation Sans', Arial, sans-serif" textLength="102.0" lengthAdjust="spacingAndGlyphs" stroke="#222" stroke-width="0.2">BraA05g042540.3C.gene</text>
<text x="1312.6" y="137.4" font-size="8.6" fill="#111" text-anchor="start" font-family="'Liberation Sans', Arial, sans-serif" textLength="102.0" lengthAdjust="spacingAndGlyphs" stroke="#222" stroke-width="0.2">BraA06g016650.3C.gene</text>
<text x="1312.6" y="146.9" font-size="8.6" fill="#111" text-anchor="start" font-family="'Liberation Sans', Arial, sans-serif" textLength="102.0" lengthAdjust="spacingAndGlyphs" stroke="#222" stroke-width="0.2">BraA06g020220.3C.gene</text>
<text x="1312.6" y="156.3" font-size="8.6" fill="#111" text-anchor="start" font-family="'Liberation Sans', Arial, sans-serif" textLength="102.0" lengthAdjust="spacingAndGlyphs" stroke="#222" stroke-width="0.2">BraA06g034340.3C.gene</text>
<text x="1312.6" y="165.7" font-size="8.6" fill="#111" text-anchor="start" font-family="'Liberation Sans', Arial, sans-serif" textLength="102.0" lengthAdjust="spacingAndGlyphs" stroke="#222" stroke-width="0.2">BraA06g036730.3C.gene</text>
<text x="1312.6" y="175.1" font-size="8.6" fill="#111" text-anchor="start" font-family="'Liberation Sans', Arial, sans-serif" textLength="102.0" lengthAdjust="spacingAndGlyphs" stroke="#222" stroke-width="0.2">BraA07g014550.3C.gene</text>
<text x="1312.6" y="184.5" font-size="8.6" fill="#111" text-anchor="start" font-family="'Liberation Sans', Arial, sans-serif" textLength="102.0" lengthAdjust="spacingAndGlyphs" stroke="#222" stroke-width="0.2">BraA07g016630.3C.gene</text>
<text x="1312.6" y="194.0" font-size="8.6" fill="#111" text-anchor="start" font-family="'Liberation Sans', Arial, sans-serif" textLength="102.0" lengthAdjust="spacingAndGlyphs" stroke="#222" stroke-width="0.2">BraA07g027210.3C.gene</text>
<text x="1312.6" y="203.4" font-size="8.6" fill="#111" text-anchor="start" font-family="'Liberation Sans', Arial, sans-serif" textLength="102.0" lengthAdjust="spacingAndGlyphs" stroke="#222" stroke-width="0.2">BraA07g030110.3C.gene</text>
<text x="1312.6" y="212.8" font-size="8.6" fill="#111" text-anchor="start" font-family="'Liberation Sans', Arial, sans-serif" textLength="102.0" lengthAdjust="spacingAndGlyphs" stroke="#222" stroke-width="0.2">BraA07g035710.3C.gene</text>
<text x="1312.6" y="222.2" font-size="8.6" fill="#111" text-anchor="start" font-family="'Liberation Sans', Arial, sans-serif" textLength="102.0" lengthAdjust="spacingAndGlyphs" stroke="#222" stroke-width="0.2">BraA07g040360.3C.gene</text>
<text x="1312.6" y="231.6" font-size="8.6" fill="#111" text-anchor="start" font-family="'Liberation Sans', Arial, sans-serif" textLength="102.0" lengthAdjust="spacingAndGlyphs" stroke="#222" stroke-width="0.2">BraA08g004020.3C.gene</text>
<text x="1312.6" y="241.1" font-size="8.6" fill="#111" text-anchor="start" font-family="'Liberation Sans', Arial, sans-serif" textLength="102.0" lengthAdjust="spacingAndGlyphs" stroke="#222" stroke-width="0.2">BraA08g021460.3C.gene</text>
<text x="1312.6" y="250.5" font-size="8.6" fill="#111" text-anchor="start" font-family="'Liberation Sans', Arial, sans-serif" textLength="102.0" lengthAdjust="spacingAndGlyphs" stroke="#222" stroke-width="0.2">BraA08g022600.3C.gene</text>
<text x="1312.6" y="259.9" font-size="8.6" fill="#111" text-anchor="start" font-family="'Liberation Sans', Arial, sans-serif" textLength="102.0" lengthAdjust="spacingAndGlyphs" stroke="#222" stroke-width="0.2">BraA08g022940.3C.gene</text>
<text x="1312.6" y="269.3" font-size="8.6" fill="#111" text-anchor="start" font-family="'Liberation Sans', Arial, sans-serif" textLength="102.0" lengthAdjust="spacingAndGlyphs" stroke="#222" stroke-width="0.2">BraA08g028700.3C.gene</text>
<text x="1312.6" y="278.7" font-size="8.6" fill="#111" text-anchor="start" font-family="'Liberation Sans', Arial, sans-serif" textLength="102.0" lengthAdjust="spacingAndGlyphs" stroke="#222" stroke-width="0.2">BraA09g006960.3C.gene</text>
<text x="1312.6" y="288.2" font-size="8.6" fill="#111" text-anchor="start" font-family="'Liberation Sans', Arial, sans-serif" textLength="102.0" lengthAdjust="spacingAndGlyphs" stroke="#222" stroke-width="0.2">BraA09g007290.3C.gene</text>
<text x="1312.6" y="297.6" font-size="8.6" fill="#111" text-anchor="start" font-family="'Liberation Sans', Arial, sans-serif" textLength="102.0" lengthAdjust="spacingAndGlyphs" stroke="#222" stroke-width="0.2">BraA09g040420.3C.gene</text>
<text x="1312.6" y="307.0" font-size="8.6" fill="#111" text-anchor="start" font-family="'Liberation Sans', Arial, sans-serif" textLength="102.0" lengthAdjust="spacingAndGlyphs" stroke="#222" stroke-width="0.2">BraA09g056140.3C.gene</text>
<text x="1312.6" y="316.4" font-size="8.6" fill="#111" text-anchor="start" font-family="'Liberation Sans', Arial, sans-serif" textLength="128.0" lengthAdjust="spacingAndGlyphs" stroke="#222" stroke-width="0.2">Brassica_rapa_newGene_4608</text>
<text x="1312.6" y="325.8" font-size="8.6" fill="#111" text-anchor="start" font-family="'Liberation Sans', Arial, sans-serif" textLength="102.0" lengthAdjust="spacingAndGlyphs" stroke="#222" stroke-width="0.2">BraA01g006790.3C.gene</text>
<text x="1312.6" y="335.3" font-size="8.6" fill="#111" text-anchor="start" font-family="'Liberation Sans', Arial, sans-serif" textLength="102.0" lengthAdjust="spacingAndGlyphs" stroke="#222" stroke-width="0.2">BraA01g009700.3C.gene</text>
<text x="1312.6" y="344.7" font-size="8.6" fill="#111" text-anchor="start" font-family="'Liberation Sans', Arial, sans-serif" textLength="102.0" lengthAdjust="spacingAndGlyphs" stroke="#222" stroke-width="0.2">BraA01g020630.3C.gene</text>
<text x="1312.6" y="354.1" font-size="8.6" fill="#111" text-anchor="start" font-family="'Liberation Sans', Arial, sans-serif" textLength="102.0" lengthAdjust="spacingAndGlyphs" stroke="#222" stroke-width="0.2">BraA01g041950.3C.gene</text>
<text x="1312.6" y="363.5" font-size="8.6" fill="#111" text-anchor="start" font-family="'Liberation Sans', Arial, sans-serif" textLength="102.0" lengthAdjust="spacingAndGlyphs" stroke="#222" stroke-width="0.2">BraA04g029740.3C.gene</text>
<text x="1312.6" y="372.9" font-size="8.6" fill="#111" text-anchor="start" font-family="'Liberation Sans', Arial, sans-serif" textLength="102.0" lengthAdjust="spacingAndGlyphs" stroke="#222" stroke-width="0.2">BraA05g001050.3C.gene</text>
<text x="1312.6" y="382.4" font-size="8.6" fill="#111" text-anchor="start" font-family="'Liberation Sans', Arial, sans-serif" textLength="102.0" lengthAdjust="spacingAndGlyphs" stroke="#222" stroke-width="0.2">BraA05g001310.3C.gene</text>
<text x="1312.6" y="391.8" font-size="8.6" fill="#111" text-anchor="start" font-family="'Liberation Sans', Arial, sans-serif" textLength="102.0" lengthAdjust="spacingAndGlyphs" stroke="#222" stroke-width="0.2">BraA05g026570.3C.gene</text>
<text x="1312.6" y="401.2" font-size="8.6" fill="#111" text-anchor="start" font-family="'Liberation Sans', Arial, sans-serif" textLength="102.0" lengthAdjust="spacingAndGlyphs" stroke="#222" stroke-width="0.2">BraA06g002790.3C.gene</text>
<text x="1312.6" y="410.6" font-size="8.6" fill="#111" text-anchor="start" font-family="'Liberation Sans', Arial, sans-serif" textLength="102.0" lengthAdjust="spacingAndGlyphs" stroke="#222" stroke-width="0.2">BraA06g006160.3C.gene</text>
<text x="1312.6" y="420.0" font-size="8.6" fill="#111" text-anchor="start" font-family="'Liberation Sans', Arial, sans-serif" textLength="102.0" lengthAdjust="spacingAndGlyphs" stroke="#222" stroke-width="0.2">BraA06g029120.3C.gene</text>
<text x="1312.6" y="429.5" font-size="8.6" fill="#111" text-anchor="start" font-family="'Liberation Sans', Arial, sans-serif" textLength="102.0" lengthAdjust="spacingAndGlyphs" stroke="#222" stroke-width="0.2">BraA06g035500.3C.gene</text>
<text x="1312.6" y="438.9" font-size="8.6" fill="#111" text-anchor="start" font-family="'Liberation Sans', Arial, sans-serif" textLength="102.0" lengthAdjust="spacingAndGlyphs" stroke="#222" stroke-width="0.2">BraA06g041760.3C.gene</text>
<text x="1312.6" y="448.3" font-size="8.6" fill="#111" text-anchor="start" font-family="'Liberation Sans', Arial, sans-serif" textLength="102.0" lengthAdjust="spacingAndGlyphs" stroke="#222" stroke-width="0.2">BraA07g037840.3C.gene</text>
<text x="1312.6" y="457.7" font-size="8.6" fill="#111" text-anchor="start" font-family="'Liberation Sans', Arial, sans-serif" textLength="102.0" lengthAdjust="spacingAndGlyphs" stroke="#222" stroke-width="0.2">BraA09g001050.3C.gene</text>
<text x="1312.6" y="467.1" font-size="8.6" fill="#111" text-anchor="start" font-family="'Liberation Sans', Arial, sans-serif" textLength="102.0" lengthAdjust="spacingAndGlyphs" stroke="#222" stroke-width="0.2">BraA09g011350.3C.gene</text>
<text x="1312.6" y="476.6" font-size="8.6" fill="#111" text-anchor="start" font-family="'Liberation Sans', Arial, sans-serif" textLength="102.0" lengthAdjust="spacingAndGlyphs" stroke="#222" stroke-width="0.2">BraA09g017380.3C.gene</text>
<text x="1312.6" y="486.0" font-size="8.6" fill="#111" text-anchor="start" font-family="'Liberation Sans', Arial, sans-serif" textLength="102.0" lengthAdjust="spacingAndGlyphs" stroke="#222" stroke-width="0.2">BraA09g028560.3C.gene</text>
<text x="1312.6" y="495.4" font-size="8.6" fill="#111" text-anchor="start" font-family="'Liberation Sans', Arial, sans-serif" textLength="102.0" lengthAdjust="spacingAndGlyphs" stroke="#222" stroke-width="0.2">BraA01g010500.3C.gene</text>
<text x="1312.6" y="504.8" font-size="8.6" fill="#111" text-anchor="start" font-family="'Liberation Sans', Arial, sans-serif" textLength="102.0" lengthAdjust="spacingAndGlyphs" stroke="#222" stroke-width="0.2">BraA01g014490.3C.gene</text>
<text x="1312.6" y="514.2" font-size="8.6" fill="#111" text-anchor="start" font-family="'Liberation Sans', Arial, sans-serif" textLength="102.0" lengthAdjust="spacingAndGlyphs" stroke="#222" stroke-width="0.2">BraA02g000030.3C.gene</text>
<text x="1312.6" y="523.7" font-size="8.6" fill="#111" text-anchor="start" font-family="'Liberation Sans', Arial, sans-serif" textLength="102.0" lengthAdjust="spacingAndGlyphs" stroke="#222" stroke-width="0.2">BraA02g002250.3C.gene</text>
<text x="1312.6" y="533.1" font-size="8.6" fill="#111" text-anchor="start" font-family="'Liberation Sans', Arial, sans-serif" textLength="102.0" lengthAdjust="spacingAndGlyphs" stroke="#222" stroke-width="0.2">BraA02g028540.3C.gene</text>
<text x="1312.6" y="542.5" font-size="8.6" fill="#111" text-anchor="start" font-family="'Liberation Sans', Arial, sans-serif" textLength="102.0" lengthAdjust="spacingAndGlyphs" stroke="#222" stroke-width="0.2">BraA02g040310.3C.gene</text>
<text x="1312.6" y="551.9" font-size="8.6" fill="#111" text-anchor="start" font-family="'Liberation Sans', Arial, sans-serif" textLength="102.0" lengthAdjust="spacingAndGlyphs" stroke="#222" stroke-width="0.2">BraA03g006670.3C.gene</text>
<text x="1312.6" y="561.3" font-size="8.6" fill="#111" text-anchor="start" font-family="'Liberation Sans', Arial, sans-serif" textLength="102.0" lengthAdjust="spacingAndGlyphs" stroke="#222" stroke-width="0.2">BraA03g013350.3C.gene</text>
<text x="1312.6" y="570.8" font-size="8.6" fill="#111" text-anchor="start" font-family="'Liberation Sans', Arial, sans-serif" textLength="102.0" lengthAdjust="spacingAndGlyphs" stroke="#222" stroke-width="0.2">BraA03g019460.3C.gene</text>
<text x="1312.6" y="580.2" font-size="8.6" fill="#111" text-anchor="start" font-family="'Liberation Sans', Arial, sans-serif" textLength="102.0" lengthAdjust="spacingAndGlyphs" stroke="#222" stroke-width="0.2">BraA03g030680.3C.gene</text>
<text x="1312.6" y="589.6" font-size="8.6" fill="#111" text-anchor="start" font-family="'Liberation Sans', Arial, sans-serif" textLength="102.0" lengthAdjust="spacingAndGlyphs" stroke="#222" stroke-width="0.2">BraA03g048120.3C.gene</text>
<text x="1312.6" y="599.0" font-size="8.6" fill="#111" text-anchor="start" font-family="'Liberation Sans', Arial, sans-serif" textLength="102.0" lengthAdjust="spacingAndGlyphs" stroke="#222" stroke-width="0.2">BraA03g051480.3C.gene</text>
<text x="1312.6" y="608.4" font-size="8.6" fill="#111" text-anchor="start" font-family="'Liberation Sans', Arial, sans-serif" textLength="102.0" lengthAdjust="spacingAndGlyphs" stroke="#222" stroke-width="0.2">BraA03g056960.3C.gene</text>
<text x="1312.6" y="617.9" font-size="8.6" fill="#111" text-anchor="start" font-family="'Liberation Sans', Arial, sans-serif" textLength="102.0" lengthAdjust="spacingAndGlyphs" stroke="#222" stroke-width="0.2">BraA04g004020.3C.gene</text>
<text x="1312.6" y="627.3" font-size="8.6" fill="#111" text-anchor="start" font-family="'Liberation Sans', Arial, sans-serif" textLength="102.0" lengthAdjust="spacingAndGlyphs" stroke="#222" stroke-width="0.2">BraA04g017140.3C.gene</text>
<text x="1312.6" y="636.7" font-size="8.6" fill="#111" text-anchor="start" font-family="'Liberation Sans', Arial, sans-serif" textLength="102.0" lengthAdjust="spacingAndGlyphs" stroke="#222" stroke-width="0.2">BraA04g018060.3C.gene</text>
<text x="1312.6" y="646.1" font-size="8.6" fill="#111" text-anchor="start" font-family="'Liberation Sans', Arial, sans-serif" textLength="102.0" lengthAdjust="spacingAndGlyphs" stroke="#222" stroke-width="0.2">BraA04g021550.3C.gene</text>
<text x="1312.6" y="655.5" font-size="8.6" fill="#111" text-anchor="start" font-family="'Liberation Sans', Arial, sans-serif" textLength="102.0" lengthAdjust="spacingAndGlyphs" stroke="#222" stroke-width="0.2">BraA04g021880.3C.gene</text>
<text x="1312.6" y="665.0" font-size="8.6" fill="#111" text-anchor="start" font-family="'Liberation Sans', Arial, sans-serif" textLength="102.0" lengthAdjust="spacingAndGlyphs" stroke="#222" stroke-width="0.2">BraA04g027230.3C.gene</text>
<text x="1312.6" y="674.4" font-size="8.6" fill="#111" text-anchor="start" font-family="'Liberation Sans', Arial, sans-serif" textLength="102.0" lengthAdjust="spacingAndGlyphs" stroke="#222" stroke-width="0.2">BraA05g007160.3C.gene</text>
<text x="1312.6" y="683.8" font-size="8.6" fill="#111" text-anchor="start" font-family="'Liberation Sans', Arial, sans-serif" textLength="102.0" lengthAdjust="spacingAndGlyphs" stroke="#222" stroke-width="0.2">BraA05g008220.3C.gene</text>
<text x="1312.6" y="693.2" font-size="8.6" fill="#111" text-anchor="start" font-family="'Liberation Sans', Arial, sans-serif" textLength="102.0" lengthAdjust="spacingAndGlyphs" stroke="#222" stroke-width="0.2">BraA05g040940.3C.gene</text>
<text x="1312.6" y="702.6" font-size="8.6" fill="#111" text-anchor="start" font-family="'Liberation Sans', Arial, sans-serif" textLength="102.0" lengthAdjust="spacingAndGlyphs" stroke="#222" stroke-width="0.2">BraA06g034700.3C.gene</text>
<text x="1312.6" y="712.1" font-size="8.6" fill="#111" text-anchor="start" font-family="'Liberation Sans', Arial, sans-serif" textLength="102.0" lengthAdjust="spacingAndGlyphs" stroke="#222" stroke-width="0.2">BraA07g042700.3C.gene</text>
<text x="1312.6" y="721.5" font-size="8.6" fill="#111" text-anchor="start" font-family="'Liberation Sans', Arial, sans-serif" textLength="102.0" lengthAdjust="spacingAndGlyphs" stroke="#222" stroke-width="0.2">BraA08g017290.3C.gene</text>
<text x="1312.6" y="730.9" font-size="8.6" fill="#111" text-anchor="start" font-family="'Liberation Sans', Arial, sans-serif" textLength="102.0" lengthAdjust="spacingAndGlyphs" stroke="#222" stroke-width="0.2">BraA09g000290.3C.gene</text>
<text x="1312.6" y="740.3" font-size="8.6" fill="#111" text-anchor="start" font-family="'Liberation Sans', Arial, sans-serif" textLength="102.0" lengthAdjust="spacingAndGlyphs" stroke="#222" stroke-width="0.2">BraA09g002340.3C.gene</text>
<text x="1312.6" y="749.7" font-size="8.6" fill="#111" text-anchor="start" font-family="'Liberation Sans', Arial, sans-serif" textLength="102.0" lengthAdjust="spacingAndGlyphs" stroke="#222" stroke-width="0.2">BraA09g042830.3C.gene</text>
<text x="1312.6" y="759.2" font-size="8.6" fill="#111" text-anchor="start" font-family="'Liberation Sans', Arial, sans-serif" textLength="102.0" lengthAdjust="spacingAndGlyphs" stroke="#222" stroke-width="0.2">BraA09g058800.3C.gene</text>
<text x="1312.6" y="768.6" font-size="8.6" fill="#111" text-anchor="start" font-family="'Liberation Sans', Arial, sans-serif" textLength="102.0" lengthAdjust="spacingAndGlyphs" stroke="#222" stroke-width="0.2">BraAnng003710.3C.gene</text>
<text x="1312.6" y="778.0" font-size="8.6" fill="#111" text-anchor="start" font-family="'Liberation Sans', Arial, sans-serif" textLength="102.0" lengthAdjust="spacingAndGlyphs" stroke="#222" stroke-width="0.2">BraAnng005520.3C.gene</text>
<text x="1312.6" y="787.4" font-size="8.6" fill="#111" text-anchor="start" font-family="'Liberation Sans', Arial, sans-serif" textLength="102.0" lengthAdjust="spacingAndGlyphs" stroke="#222" stroke-width="0.2">BraA01g028110.3C.gene</text>
<text x="1312.6" y="796.8" font-size="8.6" fill="#111" text-anchor="start" font-family="'Liberation Sans', Arial, sans-serif" textLength="102.0" lengthAdjust="spacingAndGlyphs" stroke="#222" stroke-width="0.2">BraA02g016930.3C.gene</text>
<text x="1312.6" y="806.3" font-size="8.6" fill="#111" text-anchor="start" font-family="'Liberation Sans', Arial, sans-serif" textLength="102.0" lengthAdjust="spacingAndGlyphs" stroke="#222" stroke-width="0.2">BraA03g029500.3C.gene</text>
<text x="1312.6" y="815.7" font-size="8.6" fill="#111" text-anchor="start" font-family="'Liberation Sans', Arial, sans-serif" textLength="102.0" lengthAdjust="spacingAndGlyphs" stroke="#222" stroke-width="0.2">BraA05g028640.3C.gene</text>
<text x="1312.6" y="825.1" font-size="8.6" fill="#111" text-anchor="start" font-family="'Liberation Sans', Arial, sans-serif" textLength="102.0" lengthAdjust="spacingAndGlyphs" stroke="#222" stroke-width="0.2">BraA06g017200.3C.gene</text>
<text x="1312.6" y="834.5" font-size="8.6" fill="#111" text-anchor="start" font-family="'Liberation Sans', Arial, sans-serif" textLength="102.0" lengthAdjust="spacingAndGlyphs" stroke="#222" stroke-width="0.2">BraA07g041180.3C.gene</text>
<text x="1312.6" y="843.9" font-size="8.6" fill="#111" text-anchor="start" font-family="'Liberation Sans', Arial, sans-serif" textLength="102.0" lengthAdjust="spacingAndGlyphs" stroke="#222" stroke-width="0.2">BraA09g002550.3C.gene</text>
<text x="1312.6" y="853.4" font-size="8.6" fill="#111" text-anchor="start" font-family="'Liberation Sans', Arial, sans-serif" textLength="102.0" lengthAdjust="spacingAndGlyphs" stroke="#222" stroke-width="0.2">BraA10g002170.3C.gene</text>
<g>
<rect x="1711.60" y="16.40" width="67.90" height="5.50" fill="#dedea6"/>
<rect x="1781.50" y="16.40" width="67.00" height="5.50" fill="#ede6a2"/>
<rect x="1850.00" y="16.40" width="67.70" height="5.50" fill="#f0c088"/>
<rect x="1711.60" y="23.57" width="67.90" height="5.50" fill="#dedea6"/>
<rect x="1781.50" y="23.57" width="67.00" height="5.50" fill="#f0c088"/>
<rect x="1850.00" y="23.57" width="67.70" height="5.50" fill="#f0c088"/>
<rect x="1711.60" y="30.74" width="67.90" height="5.50" fill="#dedea6"/>
<rect x="1781.50" y="30.74" width="67.00" height="5.50" fill="#dedea6"/>
<rect x="1850.00" y="30.74" width="67.70" height="5.50" fill="#c6cca8"/>
<rect x="1711.60" y="37.91" width="67.90" height="5.50" fill="#e8503e"/>
<rect x="1781.50" y="37.91" width="67.00" height="5.50" fill="#e8503e"/>
<rect x="1850.00" y="37.91" width="67.70" height="5.50" fill="#e8503e"/>
<rect x="1711.60" y="45.08" width="67.90" height="5.50" fill="#c6cca8"/>
<rect x="1781.50" y="45.08" width="67.00" height="5.50" fill="#dedea6"/>
<rect x="1850.00" y="45.08" width="67.70" height="5.50" fill="#f0c088"/>
<rect x="1711.60" y="52.26" width="67.90" height="5.50" fill="#c6cca8"/>
<rect x="1781.50" y="52.26" width="67.00" height="5.50" fill="#a9b8ad"/>
<rect x="1850.00" y="52.26" width="67.70" height="5.50" fill="#c6cca8"/>
<rect x="1711.60" y="59.43" width="67.90" height="5.50" fill="#c6cca8"/>
<rect x="1781.50" y="59.43" width="67.00" height="5.50" fill="#dedea6"/>
<rect x="1850.00" y="59.43" width="67.70" height="5.50" fill="#ede6a2"/>
<rect x="1711.60" y="66.60" width="67.90" height="5.50" fill="#dedea6"/>
<rect x="1781.50" y="66.60" width="67.00" height="5.50" fill="#f1d796"/>
<rect x="1850.00" y="66.60" width="67.70" height="5.50" fill="#efa070"/>
<rect x="1711.60" y="73.77" width="67.90" height="5.50" fill="#ede6a2"/>
<rect x="1781.50" y="73.77" width="67.00" height="5.50" fill="#efa070"/>
<rect x="1850.00" y="73.77" width="67.70" height="5.50" fill="#efa070"/>
<rect x="1711.60" y="80.94" width="67.90" height="5.50" fill="#f0c088"/>
<rect x="1781.50" y="80.94" width="67.00" height="5.50" fill="#c6cca8"/>
<rect x="1850.00" y="80.94" width="67.70" height="5.50" fill="#dedea6"/>
<rect x="1711.60" y="88.11" width="67.90" height="5.50" fill="#e8503e"/>
<rect x="1781.50" y="88.11" width="67.00" height="5.50" fill="#efa070"/>
<rect x="1850.00" y="88.11" width="67.70" height="5.50" fill="#efa070"/>
<rect x="1711.60" y="95.28" width="67.90" height="5.50" fill="#f0c088"/>
<rect x="1781.50" y="95.28" width="67.00" height="5.50" fill="#c6cca8"/>
<rect x="1850.00" y="95.28" width="67.70" height="5.50" fill="#ede6a2"/>
<rect x="1711.60" y="102.45" width="67.90" height="5.50" fill="#c6cca8"/>
<rect x="1781.50" y="102.45" width="67.00" height="5.50" fill="#dedea6"/>
<rect x="1850.00" y="102.45" width="67.70" height="5.50" fill="#dedea6"/>
<rect x="1711.60" y="109.62" width="67.90" height="5.50" fill="#f0c088"/>
<rect x="1781.50" y="109.62" width="67.00" height="5.50" fill="#efa070"/>
<rect x="1850.00" y="109.62" width="67.70" height="5.50" fill="#f1d796"/>
<rect x="1711.60" y="116.79" width="67.90" height="5.50" fill="#ede6a2"/>
<rect x="1781.50" y="116.79" width="67.00" height="5.50" fill="#c6cca8"/>
<rect x="1850.00" y="116.79" width="67.70" height="5.50" fill="#dedea6"/>
<rect x="1711.60" y="123.97" width="67.90" height="5.50" fill="#f0c088"/>
<rect x="1781.50" y="123.97" width="67.00" height="5.50" fill="#ede6a2"/>
<rect x="1850.00" y="123.97" width="67.70" height="5.50" fill="#f0c088"/>
<rect x="1711.60" y="131.14" width="67.90" height="5.50" fill="#dedea6"/>
<rect x="1781.50" y="131.14" width="67.00" height="5.50" fill="#f0c088"/>
<rect x="1850.00" y="131.14" width="67.70" height="5.50" fill="#f0c088"/>
<rect x="1711.60" y="138.31" width="67.90" height="5.50" fill="#ede6a2"/>
<rect x="1781.50" y="138.31" width="67.00" height="5.50" fill="#c6cca8"/>
<rect x="1850.00" y="138.31" width="67.70" height="5.50" fill="#ede6a2"/>
<rect x="1711.60" y="145.48" width="67.90" height="5.50" fill="#c6cca8"/>
<rect x="1781.50" y="145.48" width="67.00" height="5.50" fill="#dedea6"/>
<rect x="1850.00" y="145.48" width="67.70" height="5.50" fill="#c6cca8"/>
<rect x="1711.60" y="152.65" width="67.90" height="5.50" fill="#c6cca8"/>
<rect x="1781.50" y="152.65" width="67.00" height="5.50" fill="#a9b8ad"/>
<rect x="1850.00" y="152.65" width="67.70" height="5.50" fill="#c6cca8"/>
<rect x="1711.60" y="159.82" width="67.90" height="5.50" fill="#dedea6"/>
<rect x="1781.50" y="159.82" width="67.00" height="5.50" fill="#c6cca8"/>
<rect x="1850.00" y="159.82" width="67.70" height="5.50" fill="#8fa6b2"/>
<rect x="1711.60" y="166.99" width="67.90" height="5.50" fill="#c6cca8"/>
<rect x="1781.50" y="166.99" width="67.00" height="5.50" fill="#f1d796"/>
<rect x="1850.00" y="166.99" width="67.70" height="5.50" fill="#c6cca8"/>
<rect x="1711.60" y="174.16" width="67.90" height="5.50" fill="#c6cca8"/>
<rect x="1781.50" y="174.16" width="67.00" height="5.50" fill="#a9b8ad"/>
<rect x="1850.00" y="174.16" width="67.70" height="5.50" fill="#c6cca8"/>
<rect x="1711.60" y="181.33" width="67.90" height="5.50" fill="#c6cca8"/>
<rect x="1781.50" y="181.33" width="67.00" height="5.50" fill="#f1d796"/>
<rect x="1850.00" y="181.33" width="67.70" height="5.50" fill="#f1d796"/>
<rect x="1711.60" y="188.50" width="67.90" height="5.50" fill="#f1d796"/>
<rect x="1781.50" y="188.50" width="67.00" height="5.50" fill="#ede6a2"/>
<rect x="1850.00" y="188.50" width="67.70" height="5.50" fill="#f0c088"/>
<rect x="1711.60" y="195.68" width="67.90" height="5.50" fill="#efa070"/>
<rect x="1781.50" y="195.68" width="67.00" height="5.50" fill="#f0c088"/>
<rect x="1850.00" y="195.68" width="67.70" height="5.50" fill="#f0c088"/>
<rect x="1711.60" y="202.85" width="67.90" height="5.50" fill="#ede6a2"/>
<rect x="1781.50" y="202.85" width="67.00" height="5.50" fill="#f0c088"/>
<rect x="1850.00" y="202.85" width="67.70" height="5.50" fill="#f1d796"/>
<rect x="1711.60" y="210.02" width="67.90" height="5.50" fill="#c6cca8"/>
<rect x="1781.50" y="210.02" width="67.00" height="5.50" fill="#a9b8ad"/>
<rect x="1850.00" y="210.02" width="67.70" height="5.50" fill="#c6cca8"/>
<rect x="1711.60" y="217.19" width="67.90" height="5.50" fill="#efa070"/>
<rect x="1781.50" y="217.19" width="67.00" height="5.50" fill="#efa070"/>
<rect x="1850.00" y="217.19" width="67.70" height="5.50" fill="#efa070"/>
<rect x="1711.60" y="224.36" width="67.90" height="5.50" fill="#c6cca8"/>
<rect x="1781.50" y="224.36" width="67.00" height="5.50" fill="#c6cca8"/>
<rect x="1850.00" y="224.36" width="67.70" height="5.50" fill="#c6cca8"/>
<rect x="1711.60" y="231.53" width="67.90" height="5.50" fill="#dedea6"/>
<rect x="1781.50" y="231.53" width="67.00" height="5.50" fill="#c6cca8"/>
<rect x="1850.00" y="231.53" width="67.70" height="5.50" fill="#dedea6"/>
<rect x="1711.60" y="238.70" width="67.90" height="5.50" fill="#dedea6"/>
<rect x="1781.50" y="238.70" width="67.00" height="5.50" fill="#ede6a2"/>
<rect x="1850.00" y="238.70" width="67.70" height="5.50" fill="#c6cca8"/>
<rect x="1711.60" y="245.87" width="67.90" height="5.50" fill="#dedea6"/>
<rect x="1781.50" y="245.87" width="67.00" height="5.50" fill="#ede6a2"/>
<rect x="1850.00" y="245.87" width="67.70" height="5.50" fill="#f0c088"/>
<rect x="1711.60" y="253.04" width="67.90" height="5.50" fill="#e8503e"/>
<rect x="1781.50" y="253.04" width="67.00" height="5.50" fill="#efa070"/>
<rect x="1850.00" y="253.04" width="67.70" height="5.50" fill="#e21818"/>
<rect x="1711.60" y="260.21" width="67.90" height="5.50" fill="#efa070"/>
<rect x="1781.50" y="260.21" width="67.00" height="5.50" fill="#efa070"/>
<rect x="1850.00" y="260.21" width="67.70" height="5.50" fill="#efa070"/>
<rect x="1711.60" y="267.38" width="67.90" height="5.50" fill="#8fa6b2"/>
<rect x="1781.50" y="267.38" width="67.00" height="5.50" fill="#8fa6b2"/>
<rect x="1850.00" y="267.38" width="67.70" height="5.50" fill="#a9b8ad"/>
<rect x="1711.60" y="274.56" width="67.90" height="5.50" fill="#f0c088"/>
<rect x="1781.50" y="274.56" width="67.00" height="5.50" fill="#f0c088"/>
<rect x="1850.00" y="274.56" width="67.70" height="5.50" fill="#f0c088"/>
<rect x="1711.60" y="281.73" width="67.90" height="5.50" fill="#f0c088"/>
<rect x="1781.50" y="281.73" width="67.00" height="5.50" fill="#f0c088"/>
<rect x="1850.00" y="281.73" width="67.70" height="5.50" fill="#f0c088"/>
<rect x="1711.60" y="288.90" width="67.90" height="5.50" fill="#f1d796"/>
<rect x="1781.50" y="288.90" width="67.00" height="5.50" fill="#f1d796"/>
<rect x="1850.00" y="288.90" width="67.70" height="5.50" fill="#efa070"/>
<rect x="1711.60" y="296.07" width="67.90" height="5.50" fill="#efa070"/>
<rect x="1781.50" y="296.07" width="67.00" height="5.50" fill="#efa070"/>
<rect x="1850.00" y="296.07" width="67.70" height="5.50" fill="#e8503e"/>
<rect x="1711.60" y="303.24" width="67.90" height="5.50" fill="#c6cca8"/>
<rect x="1781.50" y="303.24" width="67.00" height="5.50" fill="#c6cca8"/>
<rect x="1850.00" y="303.24" width="67.70" height="5.50" fill="#dedea6"/>
<rect x="1711.60" y="310.41" width="67.90" height="5.50" fill="#dedea6"/>
<rect x="1781.50" y="310.41" width="67.00" height="5.50" fill="#ede6a2"/>
<rect x="1850.00" y="310.41" width="67.70" height="5.50" fill="#c6cca8"/>
<rect x="1711.60" y="317.58" width="67.90" height="5.50" fill="#dedea6"/>
<rect x="1781.50" y="317.58" width="67.00" height="5.50" fill="#dedea6"/>
<rect x="1850.00" y="317.58" width="67.70" height="5.50" fill="#c6cca8"/>
<rect x="1711.60" y="324.75" width="67.90" height="5.50" fill="#dedea6"/>
<rect x="1781.50" y="324.75" width="67.00" height="5.50" fill="#a9b8ad"/>
<rect x="1850.00" y="324.75" width="67.70" height="5.50" fill="#dedea6"/>
<rect x="1711.60" y="331.92" width="67.90" height="5.50" fill="#8fa6b2"/>
<rect x="1781.50" y="331.92" width="67.00" height="5.50" fill="#dedea6"/>
<rect x="1850.00" y="331.92" width="67.70" height="5.50" fill="#dedea6"/>
<rect x="1711.60" y="339.09" width="67.90" height="5.50" fill="#e8503e"/>
<rect x="1781.50" y="339.09" width="67.00" height="5.50" fill="#e8503e"/>
<rect x="1850.00" y="339.09" width="67.70" height="5.50" fill="#e8503e"/>
<rect x="1711.60" y="346.27" width="67.90" height="5.50" fill="#f0c088"/>
<rect x="1781.50" y="346.27" width="67.00" height="5.50" fill="#f0c088"/>
<rect x="1850.00" y="346.27" width="67.70" height="5.50" fill="#f0c088"/>
<rect x="1711.60" y="353.44" width="67.90" height="5.50" fill="#f0c088"/>
<rect x="1781.50" y="353.44" width="67.00" height="5.50" fill="#f0c088"/>
<rect x="1850.00" y="353.44" width="67.70" height="5.50" fill="#f0c088"/>
<rect x="1711.60" y="360.61" width="67.90" height="5.50" fill="#ede6a2"/>
<rect x="1781.50" y="360.61" width="67.00" height="5.50" fill="#efa070"/>
<rect x="1850.00" y="360.61" width="67.70" height="5.50" fill="#f0c088"/>
<rect x="1711.60" y="367.78" width="67.90" height="5.50" fill="#8fa6b2"/>
<rect x="1781.50" y="367.78" width="67.00" height="5.50" fill="#a9b8ad"/>
<rect x="1850.00" y="367.78" width="67.70" height="5.50" fill="#a9b8ad"/>
<rect x="1711.60" y="374.95" width="67.90" height="5.50" fill="#ede6a2"/>
<rect x="1781.50" y="374.95" width="67.00" height="5.50" fill="#f0c088"/>
<rect x="1850.00" y="374.95" width="67.70" height="5.50" fill="#f0c088"/>
<rect x="1711.60" y="382.12" width="67.90" height="5.50" fill="#c6cca8"/>
<rect x="1781.50" y="382.12" width="67.00" height="5.50" fill="#c6cca8"/>
<rect x="1850.00" y="382.12" width="67.70" height="5.50" fill="#c6cca8"/>
<rect x="1711.60" y="389.29" width="67.90" height="5.50" fill="#e21818"/>
<rect x="1781.50" y="389.29" width="67.00" height="5.50" fill="#e8503e"/>
<rect x="1850.00" y="389.29" width="67.70" height="5.50" fill="#e8503e"/>
<rect x="1711.60" y="396.46" width="67.90" height="5.50" fill="#e8503e"/>
<rect x="1781.50" y="396.46" width="67.00" height="5.50" fill="#efa070"/>
<rect x="1850.00" y="396.46" width="67.70" height="5.50" fill="#e21818"/>
<rect x="1711.60" y="403.63" width="67.90" height="5.50" fill="#f0c088"/>
<rect x="1781.50" y="403.63" width="67.00" height="5.50" fill="#f0c088"/>
<rect x="1850.00" y="403.63" width="67.70" height="5.50" fill="#ede6a2"/>
<rect x="1711.60" y="410.81" width="67.90" height="5.50" fill="#dedea6"/>
<rect x="1781.50" y="410.81" width="67.00" height="5.50" fill="#f1d796"/>
<rect x="1850.00" y="410.81" width="67.70" height="5.50" fill="#f0c088"/>
<rect x="1711.60" y="417.98" width="67.90" height="5.50" fill="#8fa6b2"/>
<rect x="1781.50" y="417.98" width="67.00" height="5.50" fill="#ede6a2"/>
<rect x="1850.00" y="417.98" width="67.70" height="5.50" fill="#c6cca8"/>
<rect x="1711.60" y="425.15" width="67.90" height="5.50" fill="#efa070"/>
<rect x="1781.50" y="425.15" width="67.00" height="5.50" fill="#ec7052"/>
<rect x="1850.00" y="425.15" width="67.70" height="5.50" fill="#ec7052"/>
<rect x="1711.60" y="432.32" width="67.90" height="5.50" fill="#dedea6"/>
<rect x="1781.50" y="432.32" width="67.00" height="5.50" fill="#dedea6"/>
<rect x="1850.00" y="432.32" width="67.70" height="5.50" fill="#ede6a2"/>
<rect x="1711.60" y="439.49" width="67.90" height="5.50" fill="#dedea6"/>
<rect x="1781.50" y="439.49" width="67.00" height="5.50" fill="#f1d796"/>
<rect x="1850.00" y="439.49" width="67.70" height="5.50" fill="#f0c088"/>
<rect x="1711.60" y="446.66" width="67.90" height="5.50" fill="#dedea6"/>
<rect x="1781.50" y="446.66" width="67.00" height="5.50" fill="#f1d796"/>
<rect x="1850.00" y="446.66" width="67.70" height="5.50" fill="#f0c088"/>
<rect x="1711.60" y="453.83" width="67.90" height="5.50" fill="#dedea6"/>
<rect x="1781.50" y="453.83" width="67.00" height="5.50" fill="#f1d796"/>
<rect x="1850.00" y="453.83" width="67.70" height="5.50" fill="#f0c088"/>
<rect x="1711.60" y="461.00" width="67.90" height="5.50" fill="#2f5cb8"/>
<rect x="1781.50" y="461.00" width="67.00" height="5.50" fill="#2f5cb8"/>
<rect x="1850.00" y="461.00" width="67.70" height="5.50" fill="#4a74b8"/>
<rect x="1711.60" y="468.17" width="67.90" height="5.50" fill="#f0c088"/>
<rect x="1781.50" y="468.17" width="67.00" height="5.50" fill="#f0c088"/>
<rect x="1850.00" y="468.17" width="67.70" height="5.50" fill="#f0c088"/>
<rect x="1711.60" y="475.34" width="67.90" height="5.50" fill="#efa070"/>
<rect x="1781.50" y="475.34" width="67.00" height="5.50" fill="#ec7052"/>
<rect x="1850.00" y="475.34" width="67.70" height="5.50" fill="#ec7052"/>
<rect x="1711.60" y="482.51" width="67.90" height="5.50" fill="#f0c088"/>
<rect x="1781.50" y="482.51" width="67.00" height="5.50" fill="#f1d796"/>
<rect x="1850.00" y="482.51" width="67.70" height="5.50" fill="#f0c088"/>
<rect x="1711.60" y="489.69" width="67.90" height="5.50" fill="#ede6a2"/>
<rect x="1781.50" y="489.69" width="67.00" height="5.50" fill="#dedea6"/>
<rect x="1850.00" y="489.69" width="67.70" height="5.50" fill="#c6cca8"/>
<rect x="1711.60" y="496.86" width="67.90" height="5.50" fill="#f0c088"/>
<rect x="1781.50" y="496.86" width="67.00" height="5.50" fill="#f0c088"/>
<rect x="1850.00" y="496.86" width="67.70" height="5.50" fill="#f1d796"/>
<rect x="1711.60" y="504.03" width="67.90" height="5.50" fill="#f0c088"/>
<rect x="1781.50" y="504.03" width="67.00" height="5.50" fill="#c6cca8"/>
<rect x="1850.00" y="504.03" width="67.70" height="5.50" fill="#dedea6"/>
<rect x="1711.60" y="511.20" width="67.90" height="5.50" fill="#c6cca8"/>
<rect x="1781.50" y="511.20" width="67.00" height="5.50" fill="#dedea6"/>
<rect x="1850.00" y="511.20" width="67.70" height="5.50" fill="#dedea6"/>
<rect x="1711.60" y="518.37" width="67.90" height="5.50" fill="#f0c088"/>
<rect x="1781.50" y="518.37" width="67.00" height="5.50" fill="#ec7052"/>
<rect x="1850.00" y="518.37" width="67.70" height="5.50" fill="#efa070"/>
<rect x="1711.60" y="525.54" width="67.90" height="5.50" fill="#e21818"/>
<rect x="1781.50" y="525.54" width="67.00" height="5.50" fill="#e8503e"/>
<rect x="1850.00" y="525.54" width="67.70" height="5.50" fill="#ec7052"/>
<rect x="1711.60" y="532.71" width="67.90" height="5.50" fill="#e8503e"/>
<rect x="1781.50" y="532.71" width="67.00" height="5.50" fill="#e8503e"/>
<rect x="1850.00" y="532.71" width="67.70" height="5.50" fill="#ec7052"/>
<rect x="1711.60" y="539.88" width="67.90" height="5.50" fill="#efa070"/>
<rect x="1781.50" y="539.88" width="67.00" height="5.50" fill="#f0c088"/>
<rect x="1850.00" y="539.88" width="67.70" height="5.50" fill="#f0c088"/>
<rect x="1711.60" y="547.05" width="67.90" height="5.50" fill="#dedea6"/>
<rect x="1781.50" y="547.05" width="67.00" height="5.50" fill="#dedea6"/>
<rect x="1850.00" y="547.05" width="67.70" height="5.50" fill="#c6cca8"/>
<rect x="1711.60" y="554.23" width="67.90" height="5.50" fill="#c6cca8"/>
<rect x="1781.50" y="554.23" width="67.00" height="5.50" fill="#dedea6"/>
<rect x="1850.00" y="554.23" width="67.70" height="5.50" fill="#dedea6"/>
<rect x="1711.60" y="561.40" width="67.90" height="5.50" fill="#f1d796"/>
<rect x="1781.50" y="561.40" width="67.00" height="5.50" fill="#f0c088"/>
<rect x="1850.00" y="561.40" width="67.70" height="5.50" fill="#f0c088"/>
<rect x="1711.60" y="568.57" width="67.90" height="5.50" fill="#efa070"/>
<rect x="1781.50" y="568.57" width="67.00" height="5.50" fill="#f1d796"/>
<rect x="1850.00" y="568.57" width="67.70" height="5.50" fill="#f0c088"/>
<rect x="1711.60" y="575.74" width="67.90" height="5.50" fill="#a9b8ad"/>
<rect x="1781.50" y="575.74" width="67.00" height="5.50" fill="#dedea6"/>
<rect x="1850.00" y="575.74" width="67.70" height="5.50" fill="#dedea6"/>
<rect x="1711.60" y="582.91" width="67.90" height="5.50" fill="#c6cca8"/>
<rect x="1781.50" y="582.91" width="67.00" height="5.50" fill="#ede6a2"/>
<rect x="1850.00" y="582.91" width="67.70" height="5.50" fill="#ede6a2"/>
<rect x="1711.60" y="590.08" width="67.90" height="5.50" fill="#c6cca8"/>
<rect x="1781.50" y="590.08" width="67.00" height="5.50" fill="#ede6a2"/>
<rect x="1850.00" y="590.08" width="67.70" height="5.50" fill="#c6cca8"/>
<rect x="1711.60" y="597.25" width="67.90" height="5.50" fill="#f1d796"/>
<rect x="1781.50" y="597.25" width="67.00" height="5.50" fill="#f0c088"/>
<rect x="1850.00" y="597.25" width="67.70" height="5.50" fill="#efa070"/>
<rect x="1711.60" y="604.42" width="67.90" height="5.50" fill="#c6cca8"/>
<rect x="1781.50" y="604.42" width="67.00" height="5.50" fill="#c6cca8"/>
<rect x="1850.00" y="604.42" width="67.70" height="5.50" fill="#ede6a2"/>
<rect x="1711.60" y="611.59" width="67.90" height="5.50" fill="#c6cca8"/>
<rect x="1781.50" y="611.59" width="67.00" height="5.50" fill="#c6cca8"/>
<rect x="1850.00" y="611.59" width="67.70" height="5.50" fill="#c6cca8"/>
<rect x="1711.60" y="618.76" width="67.90" height="5.50" fill="#c6cca8"/>
<rect x="1781.50" y="618.76" width="67.00" height="5.50" fill="#ede6a2"/>
<rect x="1850.00" y="618.76" width="67.70" height="5.50" fill="#c6cca8"/>
<rect x="1711.60" y="625.93" width="67.90" height="5.50" fill="#dedea6"/>
<rect x="1781.50" y="625.93" width="67.00" height="5.50" fill="#c6cca8"/>
<rect x="1850.00" y="625.93" width="67.70" height="5.50" fill="#ede6a2"/>
<rect x="1711.60" y="633.11" width="67.90" height="5.50" fill="#dedea6"/>
<rect x="1781.50" y="633.11" width="67.00" height="5.50" fill="#ede6a2"/>
<rect x="1850.00" y="633.11" width="67.70" height="5.50" fill="#f0c088"/>
<rect x="1711.60" y="640.28" width="67.90" height="5.50" fill="#ede6a2"/>
<rect x="1781.50" y="640.28" width="67.00" height="5.50" fill="#f0c088"/>
<rect x="1850.00" y="640.28" width="67.70" height="5.50" fill="#ede6a2"/>
<rect x="1711.60" y="647.45" width="67.90" height="5.50" fill="#dedea6"/>
<rect x="1781.50" y="647.45" width="67.00" height="5.50" fill="#f0c088"/>
<rect x="1850.00" y="647.45" width="67.70" height="5.50" fill="#dedea6"/>
<rect x="1711.60" y="654.62" width="67.90" height="5.50" fill="#dedea6"/>
<rect x="1781.50" y="654.62" width="67.00" height="5.50" fill="#f0c088"/>
<rect x="1850.00" y="654.62" width="67.70" height="5.50" fill="#f0c088"/>
<rect x="1711.60" y="661.79" width="67.90" height="5.50" fill="#ede6a2"/>
<rect x="1781.50" y="661.79" width="67.00" height="5.50" fill="#c6cca8"/>
<rect x="1850.00" y="661.79" width="67.70" height="5.50" fill="#ede6a2"/>
<rect x="1711.60" y="668.96" width="67.90" height="5.50" fill="#dedea6"/>
<rect x="1781.50" y="668.96" width="67.00" height="5.50" fill="#dedea6"/>
<rect x="1850.00" y="668.96" width="67.70" height="5.50" fill="#ede6a2"/>
<rect x="1711.60" y="676.13" width="67.90" height="5.50" fill="#ede6a2"/>
<rect x="1781.50" y="676.13" width="67.00" height="5.50" fill="#dedea6"/>
<rect x="1850.00" y="676.13" width="67.70" height="5.50" fill="#ede6a2"/>
<rect x="1711.60" y="683.30" width="67.90" height="5.50" fill="#c6cca8"/>
<rect x="1781.50" y="683.30" width="67.00" height="5.50" fill="#8fa6b2"/>
<rect x="1850.00" y="683.30" width="67.70" height="5.50" fill="#8fa6b2"/>
<rect x="1711.60" y="690.47" width="67.90" height="5.50" fill="#e21818"/>
<rect x="1781.50" y="690.47" width="67.00" height="5.50" fill="#f0c088"/>
<rect x="1850.00" y="690.47" width="67.70" height="5.50" fill="#e21818"/>
<rect x="1711.60" y="697.64" width="67.90" height="5.50" fill="#c6cca8"/>
<rect x="1781.50" y="697.64" width="67.00" height="5.50" fill="#ede6a2"/>
<rect x="1850.00" y="697.64" width="67.70" height="5.50" fill="#dedea6"/>
<rect x="1711.60" y="704.82" width="67.90" height="5.50" fill="#2f5cb8"/>
<rect x="1781.50" y="704.82" width="67.00" height="5.50" fill="#4a74b8"/>
<rect x="1850.00" y="704.82" width="67.70" height="5.50" fill="#2f5cb8"/>
<rect x="1711.60" y="711.99" width="67.90" height="5.50" fill="#ede6a2"/>
<rect x="1781.50" y="711.99" width="67.00" height="5.50" fill="#f0c088"/>
<rect x="1850.00" y="711.99" width="67.70" height="5.50" fill="#f1d796"/>
<rect x="1711.60" y="719.16" width="67.90" height="5.50" fill="#a9b8ad"/>
<rect x="1781.50" y="719.16" width="67.00" height="5.50" fill="#a9b8ad"/>
<rect x="1850.00" y="719.16" width="67.70" height="5.50" fill="#c6cca8"/>
<rect x="1711.60" y="726.33" width="67.90" height="5.50" fill="#dedea6"/>
<rect x="1781.50" y="726.33" width="67.00" height="5.50" fill="#c6cca8"/>
<rect x="1850.00" y="726.33" width="67.70" height="5.50" fill="#ede6a2"/>
<rect x="1711.60" y="733.50" width="67.90" height="5.50" fill="#ede6a2"/>
<rect x="1781.50" y="733.50" width="67.00" height="5.50" fill="#f0c088"/>
<rect x="1850.00" y="733.50" width="67.70" height="5.50" fill="#f0c088"/>
<rect x="1711.60" y="740.67" width="67.90" height="5.50" fill="#ede6a2"/>
<rect x="1781.50" y="740.67" width="67.00" height="5.50" fill="#c6cca8"/>
<rect x="1850.00" y="740.67" width="67.70" height="5.50" fill="#c6cca8"/>
<rect x="1711.60" y="747.84" width="67.90" height="5.50" fill="#a9b8ad"/>
<rect x="1781.50" y="747.84" width="67.00" height="5.50" fill="#a9b8ad"/>
<rect x="1850.00" y="747.84" width="67.70" height="5.50" fill="#c6cca8"/>
<rect x="1711.60" y="755.01" width="67.90" height="5.50" fill="#c6cca8"/>
<rect x="1781.50" y="755.01" width="67.00" height="5.50" fill="#ede6a2"/>
<rect x="1850.00" y="755.01" width="67.70" height="5.50" fill="#c6cca8"/>
<rect x="1711.60" y="762.18" width="67.90" height="5.50" fill="#c6cca8"/>
<rect x="1781.50" y="762.18" width="67.00" height="5.50" fill="#dedea6"/>
<rect x="1850.00" y="762.18" width="67.70" height="5.50" fill="#ede6a2"/>
<rect x="1711.60" y="769.36" width="67.90" height="5.50" fill="#f1d796"/>
<rect x="1781.50" y="769.36" width="67.00" height="5.50" fill="#efa070"/>
<rect x="1850.00" y="769.36" width="67.70" height="5.50" fill="#f1d796"/>
<rect x="1711.60" y="776.53" width="67.90" height="5.50" fill="#dedea6"/>
<rect x="1781.50" y="776.53" width="67.00" height="5.50" fill="#dedea6"/>
<rect x="1850.00" y="776.53" width="67.70" height="5.50" fill="#f1d796"/>
<rect x="1711.60" y="783.70" width="67.90" height="5.50" fill="#c6cca8"/>
<rect x="1781.50" y="783.70" width="67.00" height="5.50" fill="#2f5cb8"/>
<rect x="1850.00" y="783.70" width="67.70" height="5.50" fill="#2f5cb8"/>
<rect x="1711.60" y="790.87" width="67.90" height="5.50" fill="#efa070"/>
<rect x="1781.50" y="790.87" width="67.00" height="5.50" fill="#f0c088"/>
<rect x="1850.00" y="790.87" width="67.70" height="5.50" fill="#f0c088"/>
<rect x="1711.60" y="798.04" width="67.90" height="5.50" fill="#f0c088"/>
<rect x="1781.50" y="798.04" width="67.00" height="5.50" fill="#f0c088"/>
<rect x="1850.00" y="798.04" width="67.70" height="5.50" fill="#f0c088"/>
<rect x="1711.60" y="805.21" width="67.90" height="5.50" fill="#a9b8ad"/>
<rect x="1781.50" y="805.21" width="67.00" height="5.50" fill="#a9b8ad"/>
<rect x="1850.00" y="805.21" width="67.70" height="5.50" fill="#c6cca8"/>
<rect x="1711.60" y="812.38" width="67.90" height="5.50" fill="#dedea6"/>
<rect x="1781.50" y="812.38" width="67.00" height="5.50" fill="#efa070"/>
<rect x="1850.00" y="812.38" width="67.70" height="5.50" fill="#f0c088"/>
<rect x="1711.60" y="819.55" width="67.90" height="5.50" fill="#c6cca8"/>
<rect x="1781.50" y="819.55" width="67.00" height="5.50" fill="#dedea6"/>
<rect x="1850.00" y="819.55" width="67.70" height="5.50" fill="#dedea6"/>
<rect x="1711.60" y="826.72" width="67.90" height="5.50" fill="#f0c088"/>
<rect x="1781.50" y="826.72" width="67.00" height="5.50" fill="#f0c088"/>
<rect x="1850.00" y="826.72" width="67.70" height="5.50" fill="#efa070"/>
<rect x="1711.60" y="833.89" width="67.90" height="5.50" fill="#ec7052"/>
<rect x="1781.50" y="833.89" width="67.00" height="5.50" fill="#ec7052"/>
<rect x="1850.00" y="833.89" width="67.70" height="5.50" fill="#ec7052"/>
<rect x="1711.60" y="841.07" width="67.90" height="5.50" fill="#f0c088"/>
<rect x="1781.50" y="841.07" width="67.00" height="5.50" fill="#ec7052"/>
<rect x="1850.00" y="841.07" width="67.70" height="5.50" fill="#ec7052"/>
<rect x="1711.60" y="848.24" width="67.90" height="5.50" fill="#f0c088"/>
<rect x="1781.50" y="848.24" width="67.00" height="5.50" fill="#f0c088"/>
<rect x="1850.00" y="848.24" width="67.70" height="5.50" fill="#f0c088"/>
</g>
<text x="0" y="0" font-size="9.2" fill="#222" stroke="#333" stroke-width="0.22" font-family="'Liberation Sans', Arial, sans-serif" textLength="49" lengthAdjust="spacingAndGlyphs" transform="translate(1926.2,24.90) scale(1,1.45)">BjuVA06G29772</text>
<text x="0" y="0" font-size="9.2" fill="#222" stroke="#333" stroke-width="0.22" font-family="'Liberation Sans', Arial, sans-serif" textLength="49" lengthAdjust="spacingAndGlyphs" transform="translate(1926.2,32.07) scale(1,1.45)">BjuVA07G95319</text>
<text x="0" y="0" font-size="9.2" fill="#222" stroke="#333" stroke-width="0.22" font-family="'Liberation Sans', Arial, sans-serif" textLength="49" lengthAdjust="spacingAndGlyphs" transform="translate(1926.2,39.24) scale(1,1.45)">BjuVA01G19494</text>
<text x="0" y="0" font-size="9.2" fill="#222" stroke="#333" stroke-width="0.22" font-family="'Liberation Sans', Arial, sans-serif" textLength="49" lengthAdjust="spacingAndGlyphs" transform="translate(1926.2,46.41) scale(1,1.45)">BjuVA09G22337</text>
<text x="0" y="0" font-size="9.2" fill="#222" stroke="#333" stroke-width="0.22" font-family="'Liberation Sans', Arial, sans-serif" textLength="49" lengthAdjust="spacingAndGlyphs" transform="translate(1926.2,53.58) scale(1,1.45)">BjuVA06G86387</text>
<text x="0" y="0" font-size="9.2" fill="#222" stroke="#333" stroke-width="0.22" font-family="'Liberation Sans', Arial, sans-serif" textLength="49" lengthAdjust="spacingAndGlyphs" transform="translate(1926.2,60.76) scale(1,1.45)">BjuVA01G76510</text>
<text x="0" y="0" font-size="9.2" fill="#222" stroke="#333" stroke-width="0.22" font-family="'Liberation Sans', Arial, sans-serif" textLength="49" lengthAdjust="spacingAndGlyphs" transform="translate(1926.2,67.93) scale(1,1.45)">BjuVA04G14914</text>
<text x="0" y="0" font-size="9.2" fill="#222" stroke="#333" stroke-width="0.22" font-family="'Liberation Sans', Arial, sans-serif" textLength="49" lengthAdjust="spacingAndGlyphs" transform="translate(1926.2,75.10) scale(1,1.45)">BjuVA02G66838</text>
<text x="0" y="0" font-size="9.2" fill="#222" stroke="#333" stroke-width="0.22" font-family="'Liberation Sans', Arial, sans-serif" textLength="49" lengthAdjust="spacingAndGlyphs" transform="translate(1926.2,82.27) scale(1,1.45)">BjuVA07G19156</text>
<text x="0" y="0" font-size="9.2" fill="#222" stroke="#333" stroke-width="0.22" font-family="'Liberation Sans', Arial, sans-serif" textLength="49" lengthAdjust="spacingAndGlyphs" transform="translate(1926.2,89.44) scale(1,1.45)">BjuVA04G21889</text>
<text x="0" y="0" font-size="9.2" fill="#222" stroke="#333" stroke-width="0.22" font-family="'Liberation Sans', Arial, sans-serif" textLength="49" lengthAdjust="spacingAndGlyphs" transform="translate(1926.2,96.61) scale(1,1.45)">BjuVA09G65642</text>
<text x="0" y="0" font-size="9.2" fill="#222" stroke="#333" stroke-width="0.22" font-family="'Liberation Sans', Arial, sans-serif" textLength="49" lengthAdjust="spacingAndGlyphs" transform="translate(1926.2,103.78) scale(1,1.45)">BjuVA01G84115</text>
<text x="0" y="0" font-size="9.2" fill="#222" stroke="#333" stroke-width="0.22" font-family="'Liberation Sans', Arial, sans-serif" textLength="49" lengthAdjust="spacingAndGlyphs" transform="translate(1926.2,110.95) scale(1,1.45)">BjuVA02G39260</text>
<text x="0" y="0" font-size="9.2" fill="#222" stroke="#333" stroke-width="0.22" font-family="'Liberation Sans', Arial, sans-serif" textLength="49" lengthAdjust="spacingAndGlyphs" transform="translate(1926.2,118.12) scale(1,1.45)">BjuVA01G85642</text>
<text x="0" y="0" font-size="9.2" fill="#222" stroke="#333" stroke-width="0.22" font-family="'Liberation Sans', Arial, sans-serif" textLength="49" lengthAdjust="spacingAndGlyphs" transform="translate(1926.2,125.29) scale(1,1.45)">BjuVA07G16499</text>
<text x="0" y="0" font-size="9.2" fill="#222" stroke="#333" stroke-width="0.22" font-family="'Liberation Sans', Arial, sans-serif" textLength="49" lengthAdjust="spacingAndGlyphs" transform="translate(1926.2,132.47) scale(1,1.45)">BjuVA04G16105</text>
<text x="0" y="0" font-size="9.2" fill="#222" stroke="#333" stroke-width="0.22" font-family="'Liberation Sans', Arial, sans-serif" textLength="49" lengthAdjust="spacingAndGlyphs" transform="translate(1926.2,139.64) scale(1,1.45)">BjuVA09G27455</text>
<text x="0" y="0" font-size="9.2" fill="#222" stroke="#333" stroke-width="0.22" font-family="'Liberation Sans', Arial, sans-serif" textLength="49" lengthAdjust="spacingAndGlyphs" transform="translate(1926.2,146.81) scale(1,1.45)">BjuVA05G64937</text>
<text x="0" y="0" font-size="9.2" fill="#222" stroke="#333" stroke-width="0.22" font-family="'Liberation Sans', Arial, sans-serif" textLength="49" lengthAdjust="spacingAndGlyphs" transform="translate(1926.2,153.98) scale(1,1.45)">BjuVA03G80868</text>
<text x="0" y="0" font-size="9.2" fill="#222" stroke="#333" stroke-width="0.22" font-family="'Liberation Sans', Arial, sans-serif" textLength="49" lengthAdjust="spacingAndGlyphs" transform="translate(1926.2,161.15) scale(1,1.45)">BjuVA02G84830</text>
<text x="0" y="0" font-size="9.2" fill="#222" stroke="#333" stroke-width="0.22" font-family="'Liberation Sans', Arial, sans-serif" textLength="49" lengthAdjust="spacingAndGlyphs" transform="translate(1926.2,168.32) scale(1,1.45)">BjuVA05G83434</text>
<text x="0" y="0" font-size="9.2" fill="#222" stroke="#333" stroke-width="0.22" font-family="'Liberation Sans', Arial, sans-serif" textLength="49" lengthAdjust="spacingAndGlyphs" transform="translate(1926.2,175.49) scale(1,1.45)">BjuVA03G23507</text>
<text x="0" y="0" font-size="9.2" fill="#222" stroke="#333" stroke-width="0.22" font-family="'Liberation Sans', Arial, sans-serif" textLength="49" lengthAdjust="spacingAndGlyphs" transform="translate(1926.2,182.66) scale(1,1.45)">BjuVA04G58810</text>
<text x="0" y="0" font-size="9.2" fill="#222" stroke="#333" stroke-width="0.22" font-family="'Liberation Sans', Arial, sans-serif" textLength="49" lengthAdjust="spacingAndGlyphs" transform="translate(1926.2,189.83) scale(1,1.45)">BjuVA02G81793</text>
<text x="0" y="0" font-size="9.2" fill="#222" stroke="#333" stroke-width="0.22" font-family="'Liberation Sans', Arial, sans-serif" textLength="49" lengthAdjust="spacingAndGlyphs" transform="translate(1926.2,197.00) scale(1,1.45)">BjuVA02G83972</text>
<text x="0" y="0" font-size="9.2" fill="#222" stroke="#333" stroke-width="0.22" font-family="'Liberation Sans', Arial, sans-serif" textLength="49" lengthAdjust="spacingAndGlyphs" transform="translate(1926.2,204.18) scale(1,1.45)">BjuVA01G91134</text>
<text x="0" y="0" font-size="9.2" fill="#222" stroke="#333" stroke-width="0.22" font-family="'Liberation Sans', Arial, sans-serif" textLength="49" lengthAdjust="spacingAndGlyphs" transform="translate(1926.2,211.35) scale(1,1.45)">BjuVA04G75066</text>
<text x="0" y="0" font-size="9.2" fill="#222" stroke="#333" stroke-width="0.22" font-family="'Liberation Sans', Arial, sans-serif" textLength="49" lengthAdjust="spacingAndGlyphs" transform="translate(1926.2,218.52) scale(1,1.45)">BjuVA09G66045</text>
<text x="0" y="0" font-size="9.2" fill="#222" stroke="#333" stroke-width="0.22" font-family="'Liberation Sans', Arial, sans-serif" textLength="49" lengthAdjust="spacingAndGlyphs" transform="translate(1926.2,225.69) scale(1,1.45)">BjuVA06G71027</text>
<text x="0" y="0" font-size="9.2" fill="#222" stroke="#333" stroke-width="0.22" font-family="'Liberation Sans', Arial, sans-serif" textLength="49" lengthAdjust="spacingAndGlyphs" transform="translate(1926.2,232.86) scale(1,1.45)">BjuVA08G57393</text>
<text x="0" y="0" font-size="9.2" fill="#222" stroke="#333" stroke-width="0.22" font-family="'Liberation Sans', Arial, sans-serif" textLength="49" lengthAdjust="spacingAndGlyphs" transform="translate(1926.2,240.03) scale(1,1.45)">BjuVA05G42561</text>
<text x="0" y="0" font-size="9.2" fill="#222" stroke="#333" stroke-width="0.22" font-family="'Liberation Sans', Arial, sans-serif" textLength="49" lengthAdjust="spacingAndGlyphs" transform="translate(1926.2,247.20) scale(1,1.45)">BjuVA03G41994</text>
<text x="0" y="0" font-size="9.2" fill="#222" stroke="#333" stroke-width="0.22" font-family="'Liberation Sans', Arial, sans-serif" textLength="49" lengthAdjust="spacingAndGlyphs" transform="translate(1926.2,254.37) scale(1,1.45)">BjuVA02G85290</text>
<text x="0" y="0" font-size="9.2" fill="#222" stroke="#333" stroke-width="0.22" font-family="'Liberation Sans', Arial, sans-serif" textLength="49" lengthAdjust="spacingAndGlyphs" transform="translate(1926.2,261.54) scale(1,1.45)">BjuVA05G78838</text>
<text x="0" y="0" font-size="9.2" fill="#222" stroke="#333" stroke-width="0.22" font-family="'Liberation Sans', Arial, sans-serif" textLength="49" lengthAdjust="spacingAndGlyphs" transform="translate(1926.2,268.71) scale(1,1.45)">BjuVA08G55020</text>
<text x="0" y="0" font-size="9.2" fill="#222" stroke="#333" stroke-width="0.22" font-family="'Liberation Sans', Arial, sans-serif" textLength="49" lengthAdjust="spacingAndGlyphs" transform="translate(1926.2,275.88) scale(1,1.45)">BjuVA08G47740</text>
<text x="0" y="0" font-size="9.2" fill="#222" stroke="#333" stroke-width="0.22" font-family="'Liberation Sans', Arial, sans-serif" textLength="49" lengthAdjust="spacingAndGlyphs" transform="translate(1926.2,283.06) scale(1,1.45)">BjuVA02G25475</text>
<text x="0" y="0" font-size="9.2" fill="#222" stroke="#333" stroke-width="0.22" font-family="'Liberation Sans', Arial, sans-serif" textLength="49" lengthAdjust="spacingAndGlyphs" transform="translate(1926.2,290.23) scale(1,1.45)">BjuVA09G64804</text>
<text x="0" y="0" font-size="9.2" fill="#222" stroke="#333" stroke-width="0.22" font-family="'Liberation Sans', Arial, sans-serif" textLength="49" lengthAdjust="spacingAndGlyphs" transform="translate(1926.2,297.40) scale(1,1.45)">BjuVA03G54833</text>
<text x="0" y="0" font-size="9.2" fill="#222" stroke="#333" stroke-width="0.22" font-family="'Liberation Sans', Arial, sans-serif" textLength="49" lengthAdjust="spacingAndGlyphs" transform="translate(1926.2,304.57) scale(1,1.45)">BjuVA03G74089</text>
<text x="0" y="0" font-size="9.2" fill="#222" stroke="#333" stroke-width="0.22" font-family="'Liberation Sans', Arial, sans-serif" textLength="49" lengthAdjust="spacingAndGlyphs" transform="translate(1926.2,311.74) scale(1,1.45)">BjuVA07G15138</text>
<text x="0" y="0" font-size="9.2" fill="#222" stroke="#333" stroke-width="0.22" font-family="'Liberation Sans', Arial, sans-serif" textLength="49" lengthAdjust="spacingAndGlyphs" transform="translate(1926.2,318.91) scale(1,1.45)">BjuVA02G83148</text>
<text x="0" y="0" font-size="9.2" fill="#222" stroke="#333" stroke-width="0.22" font-family="'Liberation Sans', Arial, sans-serif" textLength="49" lengthAdjust="spacingAndGlyphs" transform="translate(1926.2,326.08) scale(1,1.45)">BjuVA06G54580</text>
<text x="0" y="0" font-size="9.2" fill="#222" stroke="#333" stroke-width="0.22" font-family="'Liberation Sans', Arial, sans-serif" textLength="49" lengthAdjust="spacingAndGlyphs" transform="translate(1926.2,333.25) scale(1,1.45)">BjuVA06G87905</text>
<text x="0" y="0" font-size="9.2" fill="#222" stroke="#333" stroke-width="0.22" font-family="'Liberation Sans', Arial, sans-serif" textLength="49" lengthAdjust="spacingAndGlyphs" transform="translate(1926.2,340.42) scale(1,1.45)">BjuVA08G86008</text>
<text x="0" y="0" font-size="9.2" fill="#222" stroke="#333" stroke-width="0.22" font-family="'Liberation Sans', Arial, sans-serif" textLength="49" lengthAdjust="spacingAndGlyphs" transform="translate(1926.2,347.59) scale(1,1.45)">BjuVA08G19012</text>
<text x="0" y="0" font-size="9.2" fill="#222" stroke="#333" stroke-width="0.22" font-family="'Liberation Sans', Arial, sans-serif" textLength="49" lengthAdjust="spacingAndGlyphs" transform="translate(1926.2,354.77) scale(1,1.45)">BjuVA02G45381</text>
<text x="0" y="0" font-size="9.2" fill="#222" stroke="#333" stroke-width="0.22" font-family="'Liberation Sans', Arial, sans-serif" textLength="49" lengthAdjust="spacingAndGlyphs" transform="translate(1926.2,361.94) scale(1,1.45)">BjuVA08G97051</text>
<text x="0" y="0" font-size="9.2" fill="#222" stroke="#333" stroke-width="0.22" font-family="'Liberation Sans', Arial, sans-serif" textLength="49" lengthAdjust="spacingAndGlyphs" transform="translate(1926.2,369.11) scale(1,1.45)">BjuVA02G17952</text>
<text x="0" y="0" font-size="9.2" fill="#222" stroke="#333" stroke-width="0.22" font-family="'Liberation Sans', Arial, sans-serif" textLength="49" lengthAdjust="spacingAndGlyphs" transform="translate(1926.2,376.28) scale(1,1.45)">BjuVA05G94820</text>
<text x="0" y="0" font-size="9.2" fill="#222" stroke="#333" stroke-width="0.22" font-family="'Liberation Sans', Arial, sans-serif" textLength="49" lengthAdjust="spacingAndGlyphs" transform="translate(1926.2,383.45) scale(1,1.45)">BjuVA08G47302</text>
<text x="0" y="0" font-size="9.2" fill="#222" stroke="#333" stroke-width="0.22" font-family="'Liberation Sans', Arial, sans-serif" textLength="49" lengthAdjust="spacingAndGlyphs" transform="translate(1926.2,390.62) scale(1,1.45)">BjuVA07G97641</text>
<text x="0" y="0" font-size="9.2" fill="#222" stroke="#333" stroke-width="0.22" font-family="'Liberation Sans', Arial, sans-serif" textLength="49" lengthAdjust="spacingAndGlyphs" transform="translate(1926.2,397.79) scale(1,1.45)">BjuVA06G12957</text>
<text x="0" y="0" font-size="9.2" fill="#222" stroke="#333" stroke-width="0.22" font-family="'Liberation Sans', Arial, sans-serif" textLength="49" lengthAdjust="spacingAndGlyphs" transform="translate(1926.2,404.96) scale(1,1.45)">BjuVA08G56591</text>
<text x="0" y="0" font-size="9.2" fill="#222" stroke="#333" stroke-width="0.22" font-family="'Liberation Sans', Arial, sans-serif" textLength="49" lengthAdjust="spacingAndGlyphs" transform="translate(1926.2,412.13) scale(1,1.45)">BjuVA03G90074</text>
<text x="0" y="0" font-size="9.2" fill="#222" stroke="#333" stroke-width="0.22" font-family="'Liberation Sans', Arial, sans-serif" textLength="49" lengthAdjust="spacingAndGlyphs" transform="translate(1926.2,419.31) scale(1,1.45)">BjuVA02G74709</text>
<text x="0" y="0" font-size="9.2" fill="#222" stroke="#333" stroke-width="0.22" font-family="'Liberation Sans', Arial, sans-serif" textLength="49" lengthAdjust="spacingAndGlyphs" transform="translate(1926.2,426.48) scale(1,1.45)">BjuVA01G38600</text>
<text x="1926.5" y="431.4" font-size="9" fill="#222" text-anchor="start" font-family="'Liberation Sans', Arial, sans-serif" textLength="140.0" lengthAdjust="spacingAndGlyphs">Brassica_juncea_newGene_12874</text>
<text x="1926.5" y="438.6" font-size="9" fill="#222" text-anchor="start" font-family="'Liberation Sans', Arial, sans-serif" textLength="140.0" lengthAdjust="spacingAndGlyphs">Brassica_juncea_newGene_14316</text>
<text x="1926.5" y="445.8" font-size="9" fill="#222" text-anchor="start" font-family="'Liberation Sans', Arial, sans-serif" textLength="140.0" lengthAdjust="spacingAndGlyphs">Brassica_juncea_newGene_14792</text>
<text x="1926.5" y="453.0" font-size="9" fill="#222" text-anchor="start" font-family="'Liberation Sans', Arial, sans-serif" textLength="140.0" lengthAdjust="spacingAndGlyphs">Brassica_juncea_newGene_15186</text>
<text x="1926.5" y="460.1" font-size="9" fill="#222" text-anchor="start" font-family="'Liberation Sans', Arial, sans-serif" textLength="140.0" lengthAdjust="spacingAndGlyphs">Brassica_juncea_newGene_15696</text>
<text x="0" y="0" font-size="9.2" fill="#222" stroke="#333" stroke-width="0.22" font-family="'Liberation Sans', Arial, sans-serif" textLength="49" lengthAdjust="spacingAndGlyphs" transform="translate(1926.2,469.50) scale(1,1.45)">BjuVA05G26952</text>
<text x="0" y="0" font-size="9.2" fill="#222" stroke="#333" stroke-width="0.22" font-family="'Liberation Sans', Arial, sans-serif" textLength="49" lengthAdjust="spacingAndGlyphs" transform="translate(1926.2,476.67) scale(1,1.45)">BjuVA04G62153</text>
<text x="0" y="0" font-size="9.2" fill="#222" stroke="#333" stroke-width="0.22" font-family="'Liberation Sans', Arial, sans-serif" textLength="49" lengthAdjust="spacingAndGlyphs" transform="translate(1926.2,483.84) scale(1,1.45)">BjuVA07G75078</text>
<text x="0" y="0" font-size="9.2" fill="#222" stroke="#333" stroke-width="0.22" font-family="'Liberation Sans', Arial, sans-serif" textLength="49" lengthAdjust="spacingAndGlyphs" transform="translate(1926.2,491.01) scale(1,1.45)">BjuVA02G31805</text>
<text x="0" y="0" font-size="9.2" fill="#222" stroke="#333" stroke-width="0.22" font-family="'Liberation Sans', Arial, sans-serif" textLength="49" lengthAdjust="spacingAndGlyphs" transform="translate(1926.2,498.19) scale(1,1.45)">BjuVA08G62644</text>
<text x="0" y="0" font-size="9.2" fill="#222" stroke="#333" stroke-width="0.22" font-family="'Liberation Sans', Arial, sans-serif" textLength="49" lengthAdjust="spacingAndGlyphs" transform="translate(1926.2,505.36) scale(1,1.45)">BjuVA09G46416</text>
<text x="0" y="0" font-size="9.2" fill="#222" stroke="#333" stroke-width="0.22" font-family="'Liberation Sans', Arial, sans-serif" textLength="49" lengthAdjust="spacingAndGlyphs" transform="translate(1926.2,512.53) scale(1,1.45)">BjuVA03G66429</text>
<text x="0" y="0" font-size="9.2" fill="#222" stroke="#333" stroke-width="0.22" font-family="'Liberation Sans', Arial, sans-serif" textLength="49" lengthAdjust="spacingAndGlyphs" transform="translate(1926.2,519.70) scale(1,1.45)">BjuVA09G46493</text>
<text x="0" y="0" font-size="9.2" fill="#222" stroke="#333" stroke-width="0.22" font-family="'Liberation Sans', Arial, sans-serif" textLength="49" lengthAdjust="spacingAndGlyphs" transform="translate(1926.2,526.87) scale(1,1.45)">BjuVA07G57024</text>
<text x="0" y="0" font-size="9.2" fill="#222" stroke="#333" stroke-width="0.22" font-family="'Liberation Sans', Arial, sans-serif" textLength="49" lengthAdjust="spacingAndGlyphs" transform="translate(1926.2,534.04) scale(1,1.45)">BjuVA07G40245</text>
<text x="0" y="0" font-size="9.2" fill="#222" stroke="#333" stroke-width="0.22" font-family="'Liberation Sans', Arial, sans-serif" textLength="49" lengthAdjust="spacingAndGlyphs" transform="translate(1926.2,541.21) scale(1,1.45)">BjuVA03G20876</text>
<text x="0" y="0" font-size="9.2" fill="#222" stroke="#333" stroke-width="0.22" font-family="'Liberation Sans', Arial, sans-serif" textLength="49" lengthAdjust="spacingAndGlyphs" transform="translate(1926.2,548.38) scale(1,1.45)">BjuVA03G29830</text>
<text x="0" y="0" font-size="9.2" fill="#222" stroke="#333" stroke-width="0.22" font-family="'Liberation Sans', Arial, sans-serif" textLength="49" lengthAdjust="spacingAndGlyphs" transform="translate(1926.2,555.55) scale(1,1.45)">BjuVA04G96313</text>
<text x="0" y="0" font-size="9.2" fill="#222" stroke="#333" stroke-width="0.22" font-family="'Liberation Sans', Arial, sans-serif" textLength="49" lengthAdjust="spacingAndGlyphs" transform="translate(1926.2,562.73) scale(1,1.45)">BjuVA04G11581</text>
<text x="0" y="0" font-size="9.2" fill="#222" stroke="#333" stroke-width="0.22" font-family="'Liberation Sans', Arial, sans-serif" textLength="49" lengthAdjust="spacingAndGlyphs" transform="translate(1926.2,569.90) scale(1,1.45)">BjuVA08G87217</text>
<text x="0" y="0" font-size="9.2" fill="#222" stroke="#333" stroke-width="0.22" font-family="'Liberation Sans', Arial, sans-serif" textLength="49" lengthAdjust="spacingAndGlyphs" transform="translate(1926.2,577.07) scale(1,1.45)">BjuVA03G44438</text>
<text x="0" y="0" font-size="9.2" fill="#222" stroke="#333" stroke-width="0.22" font-family="'Liberation Sans', Arial, sans-serif" textLength="49" lengthAdjust="spacingAndGlyphs" transform="translate(1926.2,584.24) scale(1,1.45)">BjuVA05G10536</text>
<text x="0" y="0" font-size="9.2" fill="#222" stroke="#333" stroke-width="0.22" font-family="'Liberation Sans', Arial, sans-serif" textLength="49" lengthAdjust="spacingAndGlyphs" transform="translate(1926.2,591.41) scale(1,1.45)">BjuVA03G64912</text>
<text x="1926.5" y="596.4" font-size="9" fill="#222" text-anchor="start" font-family="'Liberation Sans', Arial, sans-serif" textLength="140.0" lengthAdjust="spacingAndGlyphs">Brassica_juncea_newGene_13392</text>
<text x="1926.5" y="603.6" font-size="9" fill="#222" text-anchor="start" font-family="'Liberation Sans', Arial, sans-serif" textLength="133.0" lengthAdjust="spacingAndGlyphs">Brassica_juncea_newGene_7476</text>
<text x="0" y="0" font-size="9.2" fill="#222" stroke="#333" stroke-width="0.22" font-family="'Liberation Sans', Arial, sans-serif" textLength="49" lengthAdjust="spacingAndGlyphs" transform="translate(1926.2,612.92) scale(1,1.45)">BjuVA09G58398</text>
<text x="0" y="0" font-size="9.2" fill="#222" stroke="#333" stroke-width="0.22" font-family="'Liberation Sans', Arial, sans-serif" textLength="49" lengthAdjust="spacingAndGlyphs" transform="translate(1926.2,620.09) scale(1,1.45)">BjuVA06G26448</text>
<text x="0" y="0" font-size="9.2" fill="#222" stroke="#333" stroke-width="0.22" font-family="'Liberation Sans', Arial, sans-serif" textLength="49" lengthAdjust="spacingAndGlyphs" transform="translate(1926.2,627.26) scale(1,1.45)">BjuVA09G90949</text>
<text x="0" y="0" font-size="9.2" fill="#222" stroke="#333" stroke-width="0.22" font-family="'Liberation Sans', Arial, sans-serif" textLength="49" lengthAdjust="spacingAndGlyphs" transform="translate(1926.2,634.43) scale(1,1.45)">BjuVA01G69853</text>
<text x="0" y="0" font-size="9.2" fill="#222" stroke="#333" stroke-width="0.22" font-family="'Liberation Sans', Arial, sans-serif" textLength="49" lengthAdjust="spacingAndGlyphs" transform="translate(1926.2,641.61) scale(1,1.45)">BjuVA09G61429</text>
<text x="0" y="0" font-size="9.2" fill="#222" stroke="#333" stroke-width="0.22" font-family="'Liberation Sans', Arial, sans-serif" textLength="49" lengthAdjust="spacingAndGlyphs" transform="translate(1926.2,648.78) scale(1,1.45)">BjuVA07G62294</text>
<text x="0" y="0" font-size="9.2" fill="#222" stroke="#333" stroke-width="0.22" font-family="'Liberation Sans', Arial, sans-serif" textLength="49" lengthAdjust="spacingAndGlyphs" transform="translate(1926.2,655.95) scale(1,1.45)">BjuVA07G23570</text>
<text x="0" y="0" font-size="9.2" fill="#222" stroke="#333" stroke-width="0.22" font-family="'Liberation Sans', Arial, sans-serif" textLength="49" lengthAdjust="spacingAndGlyphs" transform="translate(1926.2,663.12) scale(1,1.45)">BjuVA08G93137</text>
<text x="0" y="0" font-size="9.2" fill="#222" stroke="#333" stroke-width="0.22" font-family="'Liberation Sans', Arial, sans-serif" textLength="49" lengthAdjust="spacingAndGlyphs" transform="translate(1926.2,670.29) scale(1,1.45)">BjuVA07G18158</text>
<text x="0" y="0" font-size="9.2" fill="#222" stroke="#333" stroke-width="0.22" font-family="'Liberation Sans', Arial, sans-serif" textLength="49" lengthAdjust="spacingAndGlyphs" transform="translate(1926.2,677.46) scale(1,1.45)">BjuVA04G18827</text>
<text x="0" y="0" font-size="9.2" fill="#222" stroke="#333" stroke-width="0.22" font-family="'Liberation Sans', Arial, sans-serif" textLength="49" lengthAdjust="spacingAndGlyphs" transform="translate(1926.2,684.63) scale(1,1.45)">BjuVA04G67753</text>
<text x="0" y="0" font-size="9.2" fill="#222" stroke="#333" stroke-width="0.22" font-family="'Liberation Sans', Arial, sans-serif" textLength="49" lengthAdjust="spacingAndGlyphs" transform="translate(1926.2,691.80) scale(1,1.45)">BjuVA03G24408</text>
<text x="0" y="0" font-size="9.2" fill="#222" stroke="#333" stroke-width="0.22" font-family="'Liberation Sans', Arial, sans-serif" textLength="49" lengthAdjust="spacingAndGlyphs" transform="translate(1926.2,698.97) scale(1,1.45)">BjuVA06G88738</text>
<text x="0" y="0" font-size="9.2" fill="#222" stroke="#333" stroke-width="0.22" font-family="'Liberation Sans', Arial, sans-serif" textLength="49" lengthAdjust="spacingAndGlyphs" transform="translate(1926.2,706.14) scale(1,1.45)">BjuVA01G23419</text>
<text x="0" y="0" font-size="9.2" fill="#222" stroke="#333" stroke-width="0.22" font-family="'Liberation Sans', Arial, sans-serif" textLength="49" lengthAdjust="spacingAndGlyphs" transform="translate(1926.2,713.32) scale(1,1.45)">BjuVA01G84289</text>
<text x="0" y="0" font-size="9.2" fill="#222" stroke="#333" stroke-width="0.22" font-family="'Liberation Sans', Arial, sans-serif" textLength="49" lengthAdjust="spacingAndGlyphs" transform="translate(1926.2,720.49) scale(1,1.45)">BjuVA03G80335</text>
<text x="0" y="0" font-size="9.2" fill="#222" stroke="#333" stroke-width="0.22" font-family="'Liberation Sans', Arial, sans-serif" textLength="49" lengthAdjust="spacingAndGlyphs" transform="translate(1926.2,727.66) scale(1,1.45)">BjuVA02G57659</text>
<text x="0" y="0" font-size="9.2" fill="#222" stroke="#333" stroke-width="0.22" font-family="'Liberation Sans', Arial, sans-serif" textLength="49" lengthAdjust="spacingAndGlyphs" transform="translate(1926.2,734.83) scale(1,1.45)">BjuVA01G19216</text>
<text x="0" y="0" font-size="9.2" fill="#222" stroke="#333" stroke-width="0.22" font-family="'Liberation Sans', Arial, sans-serif" textLength="49" lengthAdjust="spacingAndGlyphs" transform="translate(1926.2,742.00) scale(1,1.45)">BjuVA04G90487</text>
<text x="0" y="0" font-size="9.2" fill="#222" stroke="#333" stroke-width="0.22" font-family="'Liberation Sans', Arial, sans-serif" textLength="49" lengthAdjust="spacingAndGlyphs" transform="translate(1926.2,749.17) scale(1,1.45)">BjuVA07G29470</text>
<text x="0" y="0" font-size="9.2" fill="#222" stroke="#333" stroke-width="0.22" font-family="'Liberation Sans', Arial, sans-serif" textLength="49" lengthAdjust="spacingAndGlyphs" transform="translate(1926.2,756.34) scale(1,1.45)">BjuVA05G55533</text>
<text x="0" y="0" font-size="9.2" fill="#222" stroke="#333" stroke-width="0.22" font-family="'Liberation Sans', Arial, sans-serif" textLength="49" lengthAdjust="spacingAndGlyphs" transform="translate(1926.2,763.51) scale(1,1.45)">BjuVA06G72147</text>
<text x="0" y="0" font-size="9.2" fill="#222" stroke="#333" stroke-width="0.22" font-family="'Liberation Sans', Arial, sans-serif" textLength="49" lengthAdjust="spacingAndGlyphs" transform="translate(1926.2,770.68) scale(1,1.45)">BjuVA02G25119</text>
<text x="0" y="0" font-size="9.2" fill="#222" stroke="#333" stroke-width="0.22" font-family="'Liberation Sans', Arial, sans-serif" textLength="49" lengthAdjust="spacingAndGlyphs" transform="translate(1926.2,777.86) scale(1,1.45)">BjuVA08G71078</text>
<text x="0" y="0" font-size="9.2" fill="#222" stroke="#333" stroke-width="0.22" font-family="'Liberation Sans', Arial, sans-serif" textLength="49" lengthAdjust="spacingAndGlyphs" transform="translate(1926.2,785.03) scale(1,1.45)">BjuVA08G73417</text>
<text x="1926.5" y="790.0" font-size="9" fill="#222" text-anchor="start" font-family="'Liberation Sans', Arial, sans-serif" textLength="140.0" lengthAdjust="spacingAndGlyphs">Brassica_juncea_newGene_24957</text>
<text x="0" y="0" font-size="9.2" fill="#222" stroke="#333" stroke-width="0.22" font-family="'Liberation Sans', Arial, sans-serif" textLength="49" lengthAdjust="spacingAndGlyphs" transform="translate(1926.2,799.37) scale(1,1.45)">BjuVA05G21257</text>
<text x="0" y="0" font-size="9.2" fill="#222" stroke="#333" stroke-width="0.22" font-family="'Liberation Sans', Arial, sans-serif" textLength="49" lengthAdjust="spacingAndGlyphs" transform="translate(1926.2,806.54) scale(1,1.45)">BjuVA03G23393</text>
<text x="0" y="0" font-size="9.2" fill="#222" stroke="#333" stroke-width="0.22" font-family="'Liberation Sans', Arial, sans-serif" textLength="49" lengthAdjust="spacingAndGlyphs" transform="translate(1926.2,813.71) scale(1,1.45)">BjuVA06G44702</text>
<text x="0" y="0" font-size="9.2" fill="#222" stroke="#333" stroke-width="0.22" font-family="'Liberation Sans', Arial, sans-serif" textLength="49" lengthAdjust="spacingAndGlyphs" transform="translate(1926.2,820.88) scale(1,1.45)">BjuVA08G31160</text>
<text x="0" y="0" font-size="9.2" fill="#222" stroke="#333" stroke-width="0.22" font-family="'Liberation Sans', Arial, sans-serif" textLength="49" lengthAdjust="spacingAndGlyphs" transform="translate(1926.2,828.05) scale(1,1.45)">BjuVA09G13027</text>
<text x="0" y="0" font-size="9.2" fill="#222" stroke="#333" stroke-width="0.22" font-family="'Liberation Sans', Arial, sans-serif" textLength="49" lengthAdjust="spacingAndGlyphs" transform="translate(1926.2,835.22) scale(1,1.45)">BjuVA04G79239</text>
<text x="0" y="0" font-size="9.2" fill="#222" stroke="#333" stroke-width="0.22" font-family="'Liberation Sans', Arial, sans-serif" textLength="49" lengthAdjust="spacingAndGlyphs" transform="translate(1926.2,842.39) scale(1,1.45)">BjuVA06G29215</text>
<text x="0" y="0" font-size="9.2" fill="#222" stroke="#333" stroke-width="0.22" font-family="'Liberation Sans', Arial, sans-serif" textLength="49" lengthAdjust="spacingAndGlyphs" transform="translate(1926.2,849.57) scale(1,1.45)">BjuVA09G13544</text>
<text x="1926.5" y="854.5" font-size="9" fill="#222" text-anchor="start" font-family="'Liberation Sans', Arial, sans-serif" textLength="140.0" lengthAdjust="spacingAndGlyphs">Brassica_juncea_newGene_20428</text>
<line x1="1448.5" y1="25" x2="1448.5" y2="311.6" stroke="#6a6aff" stroke-width="1.1"/>
<polygon points="1448.5,23 1446.6,28.5 1450.4,28.5" fill="#2a2af0"/>
<polygon points="1448.5,313.6 1446.6,308.1 1450.4,308.1" fill="#2a2af0"/>
<line x1="1448.5" y1="331.6" x2="1448.5" y2="483" stroke="#6a6aff" stroke-width="1.1"/>
<polygon points="1448.5,329.6 1446.6,335.1 1450.4,335.1" fill="#2a2af0"/>
<polygon points="1448.5,485 1446.6,479.5 1450.4,479.5" fill="#2a2af0"/>
<line x1="1448.5" y1="495.3" x2="1448.5" y2="770.7" stroke="#6a6aff" stroke-width="1.1"/>
<polygon points="1448.5,493.3 1446.6,498.8 1450.4,498.8" fill="#2a2af0"/>
<polygon points="1448.5,772.7 1446.6,767.2 1450.4,767.2" fill="#2a2af0"/>
<line x1="1448.5" y1="787" x2="1448.5" y2="846" stroke="#6a6aff" stroke-width="1.1"/>
<polygon points="1448.5,785 1446.6,790.5 1450.4,790.5" fill="#2a2af0"/>
<polygon points="1448.5,848 1446.6,842.5 1450.4,842.5" fill="#2a2af0"/>
<line x1="2100.8" y1="26.6" x2="2100.8" y2="454.5" stroke="#6a6aff" stroke-width="1.1"/>
<polygon points="2100.8,24.6 2098.9,30.1 2102.7000000000003,30.1" fill="#2a2af0"/>
<polygon points="2100.8,456.5 2098.9,451.0 2102.7000000000003,451.0" fill="#2a2af0"/>
<line x1="2100.8" y1="473.9" x2="2100.8" y2="598.6" stroke="#6a6aff" stroke-width="1.1"/>
<polygon points="2100.8,471.9 2098.9,477.4 2102.7000000000003,477.4" fill="#2a2af0"/>
<polygon points="2100.8,600.6 2098.9,595.1 2102.7000000000003,595.1" fill="#2a2af0"/>
<line x1="2100.8" y1="618" x2="2100.8" y2="785" stroke="#6a6aff" stroke-width="1.1"/>
<polygon points="2100.8,616 2098.9,621.5 2102.7000000000003,621.5" fill="#2a2af0"/>
<polygon points="2100.8,787 2098.9,781.5 2102.7000000000003,781.5" fill="#2a2af0"/>
<line x1="2100.8" y1="802" x2="2100.8" y2="851" stroke="#6a6aff" stroke-width="1.1"/>
<polygon points="2100.8,800 2098.9,805.5 2102.7000000000003,805.5" fill="#2a2af0"/>
<polygon points="2100.8,853 2098.9,847.5 2102.7000000000003,847.5" fill="#2a2af0"/>
<text x="0" y="0" font-size="37" font-family="'Liberation Serif', 'Times New Roman', serif" fill="#111" textLength="74.7" lengthAdjust="spacingAndGlyphs" transform="translate(1507.7,204.7) rotate(-90)">MYB</text>
<text x="0" y="0" font-size="37" font-family="'Liberation Serif', 'Times New Roman', serif" fill="#111" textLength="87.1" lengthAdjust="spacingAndGlyphs" transform="translate(1507.7,452.7) rotate(-90)">bHLH</text>
<text x="0" y="0" font-size="37" font-family="'Liberation Serif', 'Times New Roman', serif" fill="#111" textLength="103.0" lengthAdjust="spacingAndGlyphs" transform="translate(1507.7,684.0) rotate(-90)">WRKY</text>
<text x="0" y="0" font-size="37" font-family="'Liberation Serif', 'Times New Roman', serif" fill="#111" textLength="88.4" lengthAdjust="spacingAndGlyphs" transform="translate(1507.7,859.4) rotate(-90)">WD40</text>
<text x="0" y="0" font-size="35" font-family="'Liberation Serif', 'Times New Roman', serif" fill="#111" textLength="75.6" lengthAdjust="spacingAndGlyphs" transform="translate(2158.5,281.6) rotate(-90)">MYB</text>
<text x="0" y="0" font-size="35" font-family="'Liberation Serif', 'Times New Roman', serif" fill="#111" textLength="86.8" lengthAdjust="spacingAndGlyphs" transform="translate(2158.5,584.8) rotate(-90)">bHLH</text>
<text x="0" y="0" font-size="35" font-family="'Liberation Serif', 'Times New Roman', serif" fill="#111" textLength="102.8" lengthAdjust="spacingAndGlyphs" transform="translate(2158.5,753.4) rotate(-90)">WRKY</text>
<text x="0" y="0" font-size="35" font-family="'Liberation Serif', 'Times New Roman', serif" fill="#111" textLength="90.8" lengthAdjust="spacingAndGlyphs" transform="translate(2158.5,866.8) rotate(-90)">WD40</text>
<defs>
<linearGradient id="gc" x1="0" y1="0" x2="0" y2="1">
<stop offset="0" stop-color="#e0001a"/>
<stop offset="0.167" stop-color="#e8604a"/>
<stop offset="0.333" stop-color="#eb9c72"/>
<stop offset="0.5" stop-color="#f0eea2"/>
<stop offset="0.6" stop-color="#c8d0aa"/>
<stop offset="0.667" stop-color="#98a8b2"/>
<stop offset="0.833" stop-color="#5878b8"/>
<stop offset="1" stop-color="#1646b4"/>
</linearGradient>
<linearGradient id="gd" x1="0" y1="0" x2="0" y2="1">
<stop offset="0" stop-color="#e0000e"/>
<stop offset="0.125" stop-color="#e84848"/>
<stop offset="0.25" stop-color="#ec8060"/>
<stop offset="0.375" stop-color="#f0bc86"/>
<stop offset="0.5" stop-color="#f0eaa2"/>
<stop offset="0.625" stop-color="#c0c8a8"/>
<stop offset="0.75" stop-color="#8ea4b0"/>
<stop offset="0.875" stop-color="#5878b8"/>
<stop offset="1" stop-color="#1848b0"/>
</linearGradient>
</defs>
<rect x="1563.50" y="41.20" width="25.50" height="198.00" fill="url(#gc)"/>
<line x1="1589.5" y1="41.2" x2="1589.5" y2="239.2" stroke="#333" stroke-width="1"/>
<line x1="1589.5" y1="41.8" x2="1593.5" y2="41.8" stroke="#333" stroke-width="1"/>
<text x="1595.0" y="47.8" font-size="16" fill="#111" text-anchor="start" font-family="'Liberation Sans', Arial, sans-serif">8.00</text>
<line x1="1589.5" y1="74.7" x2="1593.5" y2="74.7" stroke="#333" stroke-width="1"/>
<text x="1595.0" y="80.7" font-size="16" fill="#111" text-anchor="start" font-family="'Liberation Sans', Arial, sans-serif">6.00</text>
<line x1="1589.5" y1="107.6" x2="1593.5" y2="107.6" stroke="#333" stroke-width="1"/>
<text x="1595.0" y="113.6" font-size="16" fill="#111" text-anchor="start" font-family="'Liberation Sans', Arial, sans-serif">4.00</text>
<line x1="1589.5" y1="140.5" x2="1593.5" y2="140.5" stroke="#333" stroke-width="1"/>
<text x="1595.0" y="146.5" font-size="16" fill="#111" text-anchor="start" font-family="'Liberation Sans', Arial, sans-serif">2.00</text>
<line x1="1589.5" y1="173.4" x2="1593.5" y2="173.4" stroke="#333" stroke-width="1"/>
<text x="1595.0" y="179.4" font-size="16" fill="#111" text-anchor="start" font-family="'Liberation Sans', Arial, sans-serif">0.00</text>
<line x1="1589.5" y1="206.3" x2="1593.5" y2="206.3" stroke="#333" stroke-width="1"/>
<text x="1594.0" y="212.3" font-size="16" fill="#111" text-anchor="start" font-family="'Liberation Sans', Arial, sans-serif">-2.00</text>
<line x1="1589.5" y1="239.2" x2="1593.5" y2="239.2" stroke="#333" stroke-width="1"/>
<text x="1594.0" y="245.2" font-size="16" fill="#111" text-anchor="start" font-family="'Liberation Sans', Arial, sans-serif">-4.00</text>
<rect x="2184.40" y="41.60" width="25.60" height="197.40" fill="url(#gd)"/>
<line x1="2210.5" y1="41.6" x2="2210.5" y2="239" stroke="#333" stroke-width="1"/>
<line x1="2210.5" y1="42.4" x2="2214" y2="42.4" stroke="#333" stroke-width="1"/>
<text x="2215.0" y="47.9" font-size="15.5" fill="#111" text-anchor="start" font-family="'Liberation Sans', Arial, sans-serif">8.00</text>
<line x1="2210.5" y1="67.0" x2="2214" y2="67.0" stroke="#333" stroke-width="1"/>
<text x="2215.0" y="72.5" font-size="15.5" fill="#111" text-anchor="start" font-family="'Liberation Sans', Arial, sans-serif">6.00</text>
<line x1="2210.5" y1="91.5" x2="2214" y2="91.5" stroke="#333" stroke-width="1"/>
<text x="2215.0" y="97.0" font-size="15.5" fill="#111" text-anchor="start" font-family="'Liberation Sans', Arial, sans-serif">4.00</text>
<line x1="2210.5" y1="116.1" x2="2214" y2="116.1" stroke="#333" stroke-width="1"/>
<text x="2215.0" y="121.6" font-size="15.5" fill="#111" text-anchor="start" font-family="'Liberation Sans', Arial, sans-serif">2.00</text>
<line x1="2210.5" y1="140.7" x2="2214" y2="140.7" stroke="#333" stroke-width="1"/>
<text x="2215.0" y="146.2" font-size="15.5" fill="#111" text-anchor="start" font-family="'Liberation Sans', Arial, sans-serif">0.00</text>
<line x1="2210.5" y1="165.3" x2="2214" y2="165.3" stroke="#333" stroke-width="1"/>
<text x="2214.0" y="170.8" font-size="15.5" fill="#111" text-anchor="start" font-family="'Liberation Sans', Arial, sans-serif">-2.00</text>
<line x1="2210.5" y1="189.8" x2="2214" y2="189.8" stroke="#333" stroke-width="1"/>
<text x="2214.0" y="195.3" font-size="15.5" fill="#111" text-anchor="start" font-family="'Liberation Sans', Arial, sans-serif">-4.00</text>
<line x1="2210.5" y1="214.4" x2="2214" y2="214.4" stroke="#333" stroke-width="1"/>
<text x="2214.0" y="219.9" font-size="15.5" fill="#111" text-anchor="start" font-family="'Liberation Sans', Arial, sans-serif">-6.00</text>
<line x1="2210.5" y1="239.0" x2="2214" y2="239.0" stroke="#333" stroke-width="1"/>
<text x="2214.0" y="244.5" font-size="15.5" fill="#111" text-anchor="start" font-family="'Liberation Sans', Arial, sans-serif">-8.00</text>
<text x="0" y="0" font-size="18.3" font-family="'Liberation Sans', Arial, sans-serif" fill="#111" text-anchor="end" transform="translate(1147.2,870.8) rotate(-45)">PC-C_VS_GC-C</text>
<text x="0" y="0" font-size="18.3" font-family="'Liberation Sans', Arial, sans-serif" fill="#111" text-anchor="end" transform="translate(1217.0,868.9) rotate(-45)">PC-I_VS_GC-I</text>
<text x="0" y="0" font-size="18.3" font-family="'Liberation Sans', Arial, sans-serif" fill="#111" text-anchor="end" transform="translate(1285.9,868.9) rotate(-45)">PC-II_VS_GC-II</text>
<text x="0" y="0" font-size="18.4" font-family="'Liberation Sans', Arial, sans-serif" fill="#111" text-anchor="end" transform="translate(1760.1,871.8) rotate(-45)">PM-C_vs_GM-C</text>
<text x="0" y="0" font-size="18.4" font-family="'Liberation Sans', Arial, sans-serif" fill="#111" text-anchor="end" transform="translate(1829.9,869.8) rotate(-45)">PM-I_vs_GM-I</text>
<text x="0" y="0" font-size="18.4" font-family="'Liberation Sans', Arial, sans-serif" fill="#111" text-anchor="end" transform="translate(1898.8,869.8) rotate(-45)">PM-II_vs_GM-II</text>
</svg>
</body></html>
